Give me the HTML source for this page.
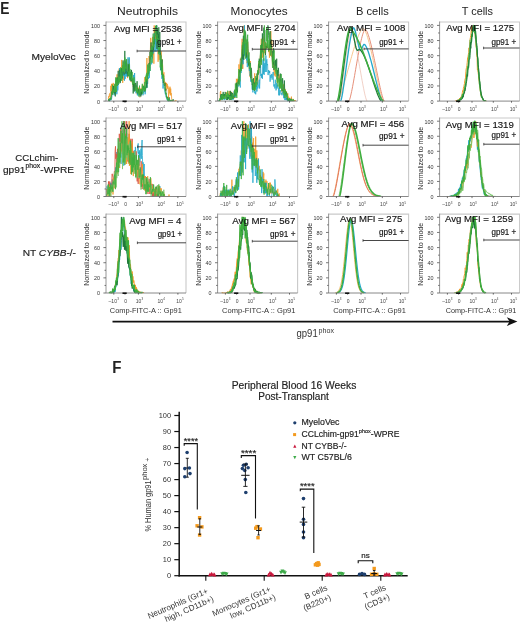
<!DOCTYPE html><html><head><meta charset="utf-8"><style>html,body{margin:0;padding:0;background:#fff;}svg{display:block;will-change:transform;} .s{stroke:#222;stroke-width:0.16px;}</style></head><body><svg width="520" height="629" viewBox="0 0 520 629" font-family='"Liberation Sans", sans-serif'>
<defs>
<clipPath id="cp00"><rect x="106.0" y="21.5" width="80.0" height="80.1"/></clipPath>
<clipPath id="cp01"><rect x="217.6" y="21.5" width="80.0" height="80.1"/></clipPath>
<clipPath id="cp02"><rect x="328.6" y="21.5" width="80.0" height="80.1"/></clipPath>
<clipPath id="cp03"><rect x="439.6" y="21.5" width="80.0" height="80.1"/></clipPath>
<clipPath id="cp10"><rect x="106.0" y="117.5" width="80.0" height="79.5"/></clipPath>
<clipPath id="cp11"><rect x="217.6" y="117.5" width="80.0" height="79.5"/></clipPath>
<clipPath id="cp12"><rect x="328.6" y="117.5" width="80.0" height="79.5"/></clipPath>
<clipPath id="cp13"><rect x="439.6" y="117.5" width="80.0" height="79.5"/></clipPath>
<clipPath id="cp20"><rect x="106.0" y="213.6" width="80.0" height="79.9"/></clipPath>
<clipPath id="cp21"><rect x="217.6" y="213.6" width="80.0" height="79.9"/></clipPath>
<clipPath id="cp22"><rect x="328.6" y="213.6" width="80.0" height="79.9"/></clipPath>
<clipPath id="cp23"><rect x="439.6" y="213.6" width="80.0" height="79.9"/></clipPath>
</defs>
<rect width="520" height="629" fill="#fff"/>
<text x="0.3" y="14.0" font-size="16.2" textLength="9.2" lengthAdjust="spacingAndGlyphs" font-weight="bold" fill="#222">E</text>
<text x="117.0" y="15.2" font-size="11.8" textLength="61.0" lengthAdjust="spacingAndGlyphs" fill="#222">Neutrophils</text>
<text x="230.6" y="15.2" font-size="11.8" textLength="57.0" lengthAdjust="spacingAndGlyphs" fill="#222">Monocytes</text>
<text x="356.0" y="15.2" font-size="11.8" textLength="32.7" lengthAdjust="spacingAndGlyphs" fill="#222">B cells</text>
<text x="461.7" y="15.2" font-size="11.8" textLength="31.3" lengthAdjust="spacingAndGlyphs" fill="#222">T cells</text>
<text x="31.5" y="60.4" font-size="9.8" textLength="44.0" lengthAdjust="spacingAndGlyphs" class="s" fill="#222">MyeloVec</text>
<text x="15.2" y="160.8" font-size="9.8" textLength="43.0" lengthAdjust="spacingAndGlyphs" class="s" fill="#222">CCLchim-</text>
<text x="2.9" y="172.7" font-size="9.8" class="s" fill="#222" textLength="71.2" lengthAdjust="spacingAndGlyphs">gp91<tspan font-size="6.6" dy="-4.6">phox</tspan><tspan dy="4.6">-WPRE</tspan></text>
<text x="22.7" y="256.3" font-size="9.8" class="s" fill="#222" textLength="53.3" lengthAdjust="spacingAndGlyphs">NT <tspan font-style="italic">CYBB</tspan>-/-</text>
<path d="M106.0,22.0 H186.0 V101.1" fill="none" stroke="#c9c9c9" stroke-width="1.1"/>
<g clip-path="url(#cp00)">
<polyline points="108.0,99.2 108.3,99.2 108.7,96.3 109.0,97.3 109.4,94.4 109.8,93.4 110.1,97.3 110.5,91.5 110.8,85.8 111.2,90.6 111.5,83.9 111.8,92.5 112.2,83.9 112.5,91.5 112.9,85.8 113.2,82.9 113.6,86.7 114.0,87.7 114.3,85.8 114.7,90.6 115.0,84.8 115.3,86.7 115.7,81.0 116.0,82.9 116.4,81.0 116.8,76.2 117.1,74.3 117.5,81.9 117.8,81.9 118.2,79.1 118.5,76.2 118.9,78.1 119.2,68.5 119.5,81.9 119.9,80.0 120.2,75.2 120.6,73.3 121.0,68.5 121.3,70.4 121.7,59.9 122.0,75.2 122.3,72.4 122.7,82.9 123.1,77.1 123.4,67.6 123.8,80.0 124.1,69.5 124.5,65.6 124.8,68.5 125.2,67.6 125.5,68.5 125.9,68.5 126.2,61.8 126.6,70.4 126.9,73.3 127.2,63.7 127.6,78.1 128.0,71.4 128.3,67.6 128.7,58.9 129.0,71.4 129.3,76.2 129.7,80.0 130.1,78.1 130.4,77.1 130.8,81.0 131.1,81.9 131.5,72.4 131.8,78.1 132.2,82.9 132.5,82.9 132.8,80.0 133.2,86.7 133.6,83.9 133.9,78.1 134.2,88.6 134.6,82.9 135.0,89.6 135.3,82.9 135.7,89.6 136.0,86.7 136.4,85.8 136.7,85.8 137.1,94.4 137.4,88.6 137.8,93.4 138.1,88.6 138.4,87.7 138.8,89.6 139.2,89.6 139.5,91.5 139.9,97.3 140.2,90.6 140.6,88.6 140.9,92.5 141.2,88.6 141.6,91.5 142.0,87.7 142.3,85.8 142.7,84.8 143.0,85.8 143.4,92.5 143.7,88.6 144.1,88.6 144.4,80.0 144.8,77.1 145.1,78.1 145.5,81.9 145.8,83.9 146.2,82.9 146.5,76.2 146.9,58.0 147.2,70.4 147.6,83.9 147.9,75.2 148.2,74.3 148.6,71.4 149.0,56.1 149.3,58.9 149.7,62.8 150.0,57.0 150.4,49.4 150.7,37.9 151.1,47.4 151.4,45.5 151.8,56.1 152.1,45.5 152.5,36.9 152.8,47.4 153.2,55.1 153.5,48.4 153.9,63.7 154.2,25.4 154.6,43.6 154.9,30.2 155.2,35.9 155.6,40.7 156.0,35.0 156.3,45.5 156.7,44.6 157.0,48.4 157.4,35.0 157.7,46.5 158.1,61.8 158.4,53.2 158.8,51.3 159.1,59.9 159.5,52.2 159.8,50.3 160.2,46.5 160.5,58.0 160.9,58.0 161.2,51.3 161.6,66.6 161.9,58.9 162.2,67.6 162.6,64.7 163.0,72.4 163.3,75.2 163.7,73.3 164.0,72.4 164.4,84.8 164.7,83.9 165.1,84.8 165.4,81.9 165.8,86.7 166.1,90.6 166.5,82.9 166.8,86.7 167.2,83.9 167.5,88.6 167.9,85.8 168.2,89.6 168.6,98.2 168.9,87.7 169.2,88.6 169.6,93.4 170.0,86.7 170.3,95.4 170.7,88.6 171.0,94.4 171.4,93.4 171.7,99.2 172.1,100.1 172.4,101.1 172.8,101.1 173.1,101.1 173.5,101.1 173.8,101.1 174.2,101.1 174.5,101.1 174.9,101.1 175.2,101.1 175.6,101.1 175.9,100.1 176.2,101.1" fill="none" stroke="#f39a2a" stroke-width="0.8" stroke-opacity="1.0" stroke-linejoin="round"/>
<polyline points="108.7,101.1 109.0,100.1 109.4,101.1 109.8,101.1 110.1,100.1 110.5,98.2 110.8,100.1 111.2,100.1 111.5,99.2 111.8,97.2 112.2,94.3 112.5,94.3 112.9,88.5 113.2,91.4 113.6,89.5 114.0,92.4 114.3,95.3 114.7,89.5 115.0,88.5 115.3,89.5 115.7,92.4 116.0,86.5 116.4,91.4 116.8,94.3 117.1,93.3 117.5,81.7 117.8,90.4 118.2,83.6 118.5,84.6 118.9,77.8 119.2,76.8 119.5,68.1 119.9,81.7 120.2,69.1 120.6,75.9 121.0,77.8 121.3,70.0 121.7,79.7 122.0,69.1 122.3,73.9 122.7,74.9 123.1,71.0 123.4,75.9 123.8,73.0 124.1,73.9 124.5,80.7 124.8,73.9 125.2,78.8 125.5,69.1 125.9,61.3 126.2,75.9 126.6,71.0 126.9,76.8 127.2,72.0 127.6,73.0 128.0,57.4 128.3,68.1 128.7,69.1 129.0,75.9 129.3,57.4 129.7,69.1 130.1,80.7 130.4,77.8 130.8,76.8 131.1,73.9 131.5,71.0 131.8,79.7 132.2,81.7 132.5,79.7 132.8,78.8 133.2,80.7 133.6,74.9 133.9,83.6 134.2,81.7 134.6,73.0 135.0,87.5 135.3,87.5 135.7,85.6 136.0,93.3 136.4,87.5 136.7,87.5 137.1,88.5 137.4,95.3 137.8,92.4 138.1,95.3 138.4,93.3 138.8,93.3 139.2,94.3 139.5,96.2 139.9,96.2 140.2,96.2 140.6,90.4 140.9,93.3 141.2,94.3 141.6,92.4 142.0,90.4 142.3,93.3 142.7,90.4 143.0,95.3 143.4,91.4 143.7,92.4 144.1,89.5 144.4,89.5 144.8,90.4 145.1,94.3 145.5,91.4 145.8,86.5 146.2,85.6 146.5,80.7 146.9,87.5 147.2,81.7 147.6,83.6 147.9,76.8 148.2,77.8 148.6,78.8 149.0,73.0 149.3,77.8 149.7,63.2 150.0,71.0 150.4,57.4 150.7,53.5 151.1,54.5 151.4,64.2 151.8,64.2 152.1,49.7 152.5,58.4 152.8,46.8 153.2,53.5 153.5,42.9 153.9,35.1 154.2,33.2 154.6,34.1 154.9,51.6 155.2,39.0 155.6,42.9 156.0,51.6 156.3,47.7 156.7,25.4 157.0,30.3 157.4,45.8 157.7,50.6 158.1,36.1 158.4,40.9 158.8,46.8 159.1,54.5 159.5,51.6 159.8,43.8 160.2,50.6 160.5,70.0 160.9,59.4 161.2,71.0 161.6,68.1 161.9,78.8 162.2,73.0 162.6,74.9 163.0,88.5 163.3,84.6 163.7,85.6 164.0,86.5 164.4,89.5 164.7,90.4 165.1,93.3 165.4,94.3 165.8,93.3 166.1,97.2 166.5,96.2 166.8,97.2 167.2,100.1 167.5,99.2 167.9,101.1 168.2,101.1 168.6,99.2 168.9,101.1 169.2,101.1 169.6,100.1 170.0,101.1 170.3,101.1 170.7,100.1 171.0,101.1" fill="none" stroke="#23a8cc" stroke-width="0.8" stroke-opacity="1.0" stroke-linejoin="round"/>
<polyline points="108.3,101.1 108.7,99.2 109.0,101.1 109.4,101.1 109.8,98.3 110.1,99.2 110.5,98.3 110.8,99.2 111.2,97.3 111.5,94.5 111.8,91.6 112.2,94.5 112.5,88.8 112.9,87.9 113.2,90.7 113.6,86.0 114.0,91.6 114.3,92.6 114.7,93.5 115.0,89.7 115.3,96.4 115.7,89.7 116.0,83.1 116.4,78.4 116.8,86.0 117.1,77.4 117.5,79.3 117.8,85.0 118.2,70.8 118.5,83.1 118.9,81.2 119.2,78.4 119.5,81.2 119.9,69.9 120.2,83.1 120.6,78.4 121.0,75.6 121.3,68.0 121.7,71.8 122.0,75.6 122.3,78.4 122.7,68.9 123.1,60.4 123.4,71.8 123.8,71.8 124.1,74.6 124.5,67.0 124.8,50.9 125.2,73.7 125.5,72.7 125.9,71.8 126.2,59.5 126.6,67.0 126.9,73.7 127.2,73.7 127.6,71.8 128.0,76.5 128.3,64.2 128.7,75.6 129.0,65.1 129.3,71.8 129.7,73.7 130.1,79.3 130.4,74.6 130.8,71.8 131.1,81.2 131.5,69.9 131.8,80.3 132.2,79.3 132.5,80.3 132.8,80.3 133.2,93.5 133.6,83.1 133.9,88.8 134.2,91.6 134.6,83.1 135.0,90.7 135.3,88.8 135.7,83.1 136.0,86.0 136.4,90.7 136.7,90.7 137.1,81.2 137.4,91.6 137.8,93.5 138.1,89.7 138.4,92.6 138.8,88.8 139.2,91.6 139.5,94.5 139.9,92.6 140.2,89.7 140.6,89.7 140.9,96.4 141.2,91.6 141.6,94.5 142.0,88.8 142.3,90.7 142.7,89.7 143.0,86.9 143.4,88.8 143.7,86.0 144.1,89.7 144.4,86.9 144.8,91.6 145.1,86.9 145.5,89.7 145.8,87.9 146.2,85.0 146.5,79.3 146.9,87.9 147.2,79.3 147.6,73.7 147.9,73.7 148.2,70.8 148.6,73.7 149.0,63.2 149.3,68.0 149.7,61.4 150.0,51.9 150.4,59.5 150.7,50.9 151.1,42.4 151.4,56.6 151.8,49.1 152.1,50.9 152.5,54.7 152.8,46.2 153.2,50.0 153.5,41.5 153.9,43.4 154.2,44.3 154.6,36.8 154.9,35.8 155.2,28.2 155.6,26.3 156.0,32.0 156.3,39.6 156.7,25.4 157.0,49.1 157.4,29.2 157.7,42.4 158.1,33.9 158.4,39.6 158.8,27.3 159.1,52.8 159.5,44.3 159.8,32.0 160.2,54.7 160.5,52.8 160.9,55.7 161.2,69.9 161.6,64.2 161.9,63.2 162.2,59.5 162.6,76.5 163.0,74.6 163.3,83.1 163.7,78.4 164.0,85.0 164.4,85.0 164.7,86.0 165.1,83.1 165.4,90.7 165.8,88.8 166.1,94.5 166.5,97.3 166.8,96.4 167.2,98.3 167.5,97.3 167.9,99.2 168.2,101.1 168.6,101.1 168.9,99.2 169.2,97.3 169.6,101.1 170.0,101.1 170.3,100.2 170.7,101.1 171.0,101.1 171.4,101.1 171.7,100.2 172.1,100.2 172.4,101.1 172.8,101.1 173.1,99.2 173.5,100.2 173.8,101.1" fill="none" stroke="#1f7a3a" stroke-width="0.8" stroke-opacity="1.0" stroke-linejoin="round"/>
<polyline points="108.7,101.1 109.0,99.3 109.4,99.3 109.8,99.3 110.1,100.2 110.5,97.5 110.8,99.3 111.2,97.5 111.5,93.8 111.8,92.0 112.2,92.0 112.5,84.7 112.9,94.7 113.2,90.2 113.6,92.9 114.0,89.2 114.3,92.0 114.7,83.8 115.0,90.2 115.3,92.0 115.7,77.4 116.0,88.3 116.4,92.0 116.8,78.3 117.1,81.0 117.5,85.6 117.8,82.9 118.2,79.2 118.5,76.5 118.9,83.8 119.2,77.4 119.5,81.9 119.9,76.5 120.2,79.2 120.6,67.4 121.0,72.8 121.3,74.7 121.7,81.0 122.0,78.3 122.3,65.5 122.7,65.5 123.1,71.9 123.4,61.9 123.8,71.0 124.1,63.7 124.5,71.9 124.8,57.3 125.2,66.4 125.5,68.3 125.9,66.4 126.2,69.2 126.6,59.1 126.9,63.7 127.2,71.0 127.6,71.0 128.0,71.0 128.3,75.6 128.7,71.9 129.0,72.8 129.3,63.7 129.7,79.2 130.1,69.2 130.4,77.4 130.8,75.6 131.1,80.1 131.5,80.1 131.8,76.5 132.2,71.9 132.5,84.7 132.8,78.3 133.2,79.2 133.6,83.8 133.9,77.4 134.2,77.4 134.6,83.8 135.0,83.8 135.3,90.2 135.7,89.2 136.0,87.4 136.4,92.0 136.7,86.5 137.1,92.9 137.4,89.2 137.8,90.2 138.1,91.1 138.4,92.0 138.8,96.5 139.2,94.7 139.5,85.6 139.9,93.8 140.2,92.9 140.6,89.2 140.9,92.0 141.2,90.2 141.6,91.1 142.0,90.2 142.3,83.8 142.7,93.8 143.0,85.6 143.4,90.2 143.7,88.3 144.1,90.2 144.4,88.3 144.8,81.9 145.1,91.1 145.5,76.5 145.8,82.9 146.2,74.7 146.5,76.5 146.9,72.8 147.2,81.0 147.6,64.6 147.9,73.7 148.2,75.6 148.6,68.3 149.0,72.8 149.3,63.7 149.7,70.1 150.0,71.0 150.4,66.4 150.7,50.0 151.1,55.5 151.4,50.9 151.8,46.4 152.1,62.8 152.5,44.6 152.8,39.1 153.2,33.6 153.5,41.8 153.9,47.3 154.2,37.3 154.6,35.4 154.9,33.6 155.2,33.6 155.6,28.1 156.0,25.4 156.3,41.8 156.7,39.1 157.0,34.5 157.4,37.3 157.7,39.1 158.1,38.2 158.4,53.7 158.8,50.9 159.1,50.0 159.5,45.5 159.8,54.6 160.2,67.4 160.5,64.6 160.9,55.5 161.2,69.2 161.6,74.7 161.9,69.2 162.2,63.7 162.6,77.4 163.0,74.7 163.3,81.0 163.7,75.6 164.0,82.9 164.4,83.8 164.7,86.5 165.1,90.2 165.4,92.0 165.8,93.8 166.1,92.9 166.5,95.6 166.8,98.4 167.2,99.3 167.5,98.4 167.9,99.3 168.2,101.1 168.6,98.4 168.9,99.3 169.2,101.1 169.6,100.2 170.0,100.2 170.3,100.2 170.7,100.2 171.0,101.1 171.4,100.2 171.7,101.1" fill="none" stroke="#3fae3f" stroke-width="0.8" stroke-opacity="1.0" stroke-linejoin="round"/>
</g>
<line x1="106.0" y1="21.5" x2="106.0" y2="101.1" stroke="#8a8a8a" stroke-width="0.9"/>
<line x1="106.0" y1="101.1" x2="186.0" y2="101.1" stroke="#7a7a7a" stroke-width="0.9"/>
<line x1="103.4" y1="101.10" x2="106.0" y2="101.10" stroke="#555" stroke-width="0.8"/>
<text x="100.0" y="103.50" font-size="5.4" text-anchor="end" fill="#333">0</text>
<line x1="104.5" y1="93.53" x2="106.0" y2="93.53" stroke="#555" stroke-width="0.8"/>
<line x1="103.4" y1="85.96" x2="106.0" y2="85.96" stroke="#555" stroke-width="0.8"/>
<text x="100.0" y="88.36" font-size="5.4" text-anchor="end" fill="#333">20</text>
<line x1="104.5" y1="78.39" x2="106.0" y2="78.39" stroke="#555" stroke-width="0.8"/>
<line x1="103.4" y1="70.82" x2="106.0" y2="70.82" stroke="#555" stroke-width="0.8"/>
<text x="100.0" y="73.22" font-size="5.4" text-anchor="end" fill="#333">40</text>
<line x1="104.5" y1="63.25" x2="106.0" y2="63.25" stroke="#555" stroke-width="0.8"/>
<line x1="103.4" y1="55.68" x2="106.0" y2="55.68" stroke="#555" stroke-width="0.8"/>
<text x="100.0" y="58.08" font-size="5.4" text-anchor="end" fill="#333">60</text>
<line x1="104.5" y1="48.11" x2="106.0" y2="48.11" stroke="#555" stroke-width="0.8"/>
<line x1="103.4" y1="40.54" x2="106.0" y2="40.54" stroke="#555" stroke-width="0.8"/>
<text x="100.0" y="42.94" font-size="5.4" text-anchor="end" fill="#333">80</text>
<line x1="104.5" y1="32.97" x2="106.0" y2="32.97" stroke="#555" stroke-width="0.8"/>
<line x1="103.4" y1="25.40" x2="106.0" y2="25.40" stroke="#555" stroke-width="0.8"/>
<text x="100.0" y="27.80" font-size="5.4" text-anchor="end" fill="#333">100</text>
<line x1="113.8" y1="101.1" x2="113.8" y2="102.69999999999999" stroke="#444" stroke-width="0.8"/>
<line x1="125.0" y1="101.1" x2="125.0" y2="102.69999999999999" stroke="#444" stroke-width="0.8"/>
<line x1="138.4" y1="101.1" x2="138.4" y2="102.69999999999999" stroke="#444" stroke-width="0.8"/>
<line x1="159.7" y1="101.1" x2="159.7" y2="102.69999999999999" stroke="#444" stroke-width="0.8"/>
<line x1="177.9" y1="101.1" x2="177.9" y2="102.69999999999999" stroke="#444" stroke-width="0.8"/>
<rect x="122.5" y="100.5" width="4.2" height="1.6" fill="#111"/>
<text x="108.6" y="111.0" font-size="5.0" fill="#444">–10</text>
<text x="117.2" y="108.4" font-size="3.0" fill="#444">3</text>
<text x="125.6" y="111.0" font-size="5.0" text-anchor="middle" fill="#444">0</text>
<text x="138.6" y="111.0" font-size="5.0" text-anchor="middle" fill="#444">10</text>
<text x="141.5" y="108.4" font-size="3.0" fill="#444">3</text>
<text x="160.3" y="111.0" font-size="5.0" text-anchor="middle" fill="#444">10</text>
<text x="163.2" y="108.4" font-size="3.0" fill="#444">4</text>
<text x="179.0" y="111.0" font-size="5.0" text-anchor="middle" fill="#444">10</text>
<text x="181.9" y="108.4" font-size="3.0" fill="#444">5</text>
<text x="86.8" y="62.2" font-size="7.9" text-anchor="middle" fill="#2a2a2a" transform="rotate(-90 86.8 62.2) translate(0 2.7)" textLength="63" lengthAdjust="spacingAndGlyphs">Normalized to mode</text>
<text x="114.0" y="32.2" font-size="9.0" textLength="68.2" lengthAdjust="spacingAndGlyphs" class="s" fill="#111">Avg MFI = 2536</text>
<text x="157.3" y="45.4" font-size="8.2" textLength="24.2" lengthAdjust="spacingAndGlyphs" class="s" fill="#111">gp91 +</text>
<line x1="137.1" y1="51.0" x2="186.0" y2="51.0" stroke="#333" stroke-width="0.9"/>
<line x1="137.1" y1="49.7" x2="137.1" y2="52.3" stroke="#333" stroke-width="0.8"/>
<path d="M217.6,22.0 H297.6 V101.1" fill="none" stroke="#c9c9c9" stroke-width="1.1"/>
<g clip-path="url(#cp01)">
<polyline points="219.3,101.1 219.7,100.0 220.0,101.1 220.3,92.2 220.7,91.1 221.0,96.6 221.4,95.5 221.8,97.8 222.1,97.8 222.4,100.0 222.8,97.8 223.2,96.6 223.5,97.8 223.8,98.9 224.2,94.4 224.5,94.4 224.9,97.8 225.2,98.9 225.6,96.6 225.9,96.6 226.3,95.5 226.7,92.2 227.0,97.8 227.3,96.6 227.7,94.4 228.1,93.3 228.4,95.5 228.8,97.8 229.1,91.1 229.4,98.9 229.8,95.5 230.2,95.5 230.5,91.1 230.8,97.8 231.2,97.8 231.6,94.4 231.9,92.2 232.2,96.6 232.6,97.8 232.9,94.4 233.3,94.4 233.7,98.9 234.0,95.5 234.3,97.8 234.7,90.0 235.1,90.0 235.4,97.8 235.8,92.2 236.1,87.7 236.4,78.8 236.8,81.1 237.2,85.5 237.5,78.8 237.8,82.2 238.2,84.4 238.6,73.3 238.9,64.4 239.2,67.7 239.6,69.9 239.9,63.2 240.3,58.8 240.7,59.9 241.0,59.9 241.3,59.9 241.7,48.8 242.1,38.8 242.4,51.0 242.8,68.8 243.1,49.9 243.4,48.8 243.8,46.6 244.2,25.4 244.5,53.2 244.8,34.3 245.2,42.1 245.6,38.8 245.9,55.5 246.2,46.6 246.6,53.2 246.9,63.2 247.3,63.2 247.7,42.1 248.0,58.8 248.3,55.5 248.7,66.6 249.1,67.7 249.4,73.3 249.8,76.6 250.1,76.6 250.4,61.0 250.8,71.0 251.2,71.0 251.5,76.6 251.8,78.8 252.2,84.4 252.6,90.0 252.9,90.0 253.2,88.9 253.6,85.5 253.9,82.2 254.3,83.3 254.7,73.3 255.0,83.3 255.3,86.6 255.7,82.2 256.1,86.6 256.4,85.5 256.8,83.3 257.1,73.3 257.4,78.8 257.8,83.3 258.1,71.0 258.5,63.2 258.9,66.6 259.2,61.0 259.6,65.5 259.9,73.3 260.2,57.7 260.6,53.2 260.9,49.9 261.3,38.8 261.6,52.1 262.0,53.2 262.4,57.7 262.7,55.5 263.1,38.8 263.4,56.6 263.8,51.0 264.1,36.5 264.4,53.2 264.8,44.3 265.1,47.7 265.5,42.1 265.9,45.4 266.2,48.8 266.6,44.3 266.9,46.6 267.2,47.7 267.6,47.7 267.9,44.3 268.3,46.6 268.6,52.1 269.0,46.6 269.4,57.7 269.7,55.5 270.1,42.1 270.4,55.5 270.8,31.0 271.1,38.8 271.4,56.6 271.8,39.9 272.1,55.5 272.5,64.4 272.9,54.3 273.2,63.2 273.6,67.7 273.9,67.7 274.2,75.5 274.6,64.4 274.9,71.0 275.3,76.6 275.6,73.3 276.0,69.9 276.4,68.8 276.7,69.9 277.1,72.2 277.4,83.3 277.8,81.1 278.1,78.8 278.4,78.8 278.8,74.4 279.2,74.4 279.5,79.9 279.9,81.1 280.2,81.1 280.6,82.2 280.9,87.7 281.2,83.3 281.6,86.6 282.0,92.2 282.3,90.0 282.6,90.0 283.0,94.4 283.4,86.6 283.7,84.4 284.1,93.3 284.4,96.6 284.8,91.1 285.1,88.9 285.5,97.8 285.8,95.5 286.1,91.1 286.5,95.5 286.9,95.5 287.2,96.6 287.6,93.3 287.9,93.3 288.2,97.8 288.6,96.6 289.0,98.9 289.3,98.9 289.6,97.8 290.0,98.9 290.4,100.0 290.7,100.0 291.1,98.9 291.4,96.6 291.8,100.0 292.1,101.1 292.5,100.0 292.8,101.1 293.2,98.9 293.5,101.1 293.9,101.1 294.2,100.0 294.6,101.1 294.9,101.1 295.2,100.0 295.6,101.1" fill="none" stroke="#f39a2a" stroke-width="0.8" stroke-opacity="1.0" stroke-linejoin="round"/>
<polyline points="218.9,101.1 219.3,100.1 219.7,100.1 220.0,99.2 220.3,99.2 220.7,98.2 221.0,95.3 221.4,99.2 221.8,100.1 222.1,95.3 222.4,97.2 222.8,96.2 223.2,97.2 223.5,99.2 223.8,94.3 224.2,100.1 224.5,98.2 224.9,98.2 225.2,99.2 225.6,99.2 225.9,97.2 226.3,98.2 226.7,96.2 227.0,95.3 227.3,99.2 227.7,97.2 228.1,98.2 228.4,98.2 228.8,95.3 229.1,96.2 229.4,96.2 229.8,100.1 230.2,96.2 230.5,95.3 230.8,96.2 231.2,96.2 231.6,93.3 231.9,97.2 232.2,95.3 232.6,97.2 232.9,100.1 233.3,97.2 233.7,97.2 234.0,94.3 234.3,91.4 234.7,97.2 235.1,93.3 235.4,97.2 235.8,93.3 236.1,96.2 236.4,92.4 236.8,93.3 237.2,92.4 237.5,86.5 237.8,84.6 238.2,86.5 238.6,79.7 238.9,79.7 239.2,76.8 239.6,76.8 239.9,84.6 240.3,87.5 240.7,65.2 241.0,73.0 241.3,62.3 241.7,65.2 242.1,61.3 242.4,61.3 242.8,53.5 243.1,64.2 243.4,48.7 243.8,56.5 244.2,53.5 244.5,25.4 244.8,55.5 245.2,42.9 245.6,45.8 245.9,42.9 246.2,57.4 246.6,60.3 246.9,54.5 247.3,67.1 247.7,56.5 248.0,55.5 248.3,58.4 248.7,66.2 249.1,66.2 249.4,71.0 249.8,62.3 250.1,75.9 250.4,70.0 250.8,81.7 251.2,79.7 251.5,81.7 251.8,80.7 252.2,89.5 252.6,82.7 252.9,92.4 253.2,87.5 253.6,88.5 253.9,89.5 254.3,85.6 254.7,93.3 255.0,91.4 255.3,91.4 255.7,94.3 256.1,90.4 256.4,85.6 256.8,91.4 257.1,91.4 257.4,81.7 257.8,88.5 258.1,87.5 258.5,86.5 258.9,82.7 259.2,79.7 259.6,88.5 259.9,81.7 260.2,65.2 260.6,65.2 260.9,75.9 261.3,73.9 261.6,77.8 262.0,73.9 262.4,78.8 262.7,66.2 263.1,59.4 263.4,73.9 263.8,58.4 264.1,74.9 264.4,69.1 264.8,63.2 265.1,72.0 265.5,64.2 265.9,55.5 266.2,72.0 266.6,60.3 266.9,59.4 267.2,65.2 267.6,64.2 267.9,74.9 268.3,74.9 268.6,70.0 269.0,71.0 269.4,73.0 269.7,71.0 270.1,81.7 270.4,76.8 270.8,74.9 271.1,77.8 271.4,75.9 271.8,73.9 272.1,79.7 272.5,75.9 272.9,73.9 273.2,72.0 273.6,83.6 273.9,86.5 274.2,84.6 274.6,84.6 274.9,88.5 275.3,79.7 275.6,83.6 276.0,90.4 276.4,88.5 276.7,82.7 277.1,88.5 277.4,84.6 277.8,85.6 278.1,87.5 278.4,87.5 278.8,95.3 279.2,88.5 279.5,95.3 279.9,94.3 280.2,90.4 280.6,90.4 280.9,92.4 281.2,94.3 281.6,93.3 282.0,95.3 282.3,92.4 282.6,91.4 283.0,93.3 283.4,93.3 283.7,98.2 284.1,93.3 284.4,96.2 284.8,100.1 285.1,99.2 285.5,94.3 285.8,100.1 286.1,98.2 286.5,99.2 286.9,97.2 287.2,101.1 287.6,101.1 287.9,101.1 288.2,100.1 288.6,100.1 289.0,101.1 289.3,101.1 289.6,101.1 290.0,101.1 290.4,101.1 290.7,101.1 291.1,100.1 291.4,101.1 291.8,100.1 292.1,101.1" fill="none" stroke="#23a8cc" stroke-width="0.8" stroke-opacity="1.0" stroke-linejoin="round"/>
<polyline points="218.9,101.1 219.3,100.0 219.7,100.0 220.0,100.0 220.3,100.0 220.7,97.7 221.0,94.2 221.4,98.8 221.8,94.2 222.1,98.8 222.4,94.2 222.8,97.7 223.2,91.9 223.5,96.5 223.8,97.7 224.2,96.5 224.5,94.2 224.9,96.5 225.2,91.9 225.6,95.4 225.9,95.4 226.3,96.5 226.7,100.0 227.0,95.4 227.3,98.8 227.7,100.0 228.1,94.2 228.4,97.7 228.8,98.8 229.1,95.4 229.4,100.0 229.8,96.5 230.2,90.8 230.5,94.2 230.8,100.0 231.2,91.9 231.6,98.8 231.9,97.7 232.2,96.5 232.6,93.1 232.9,98.8 233.3,96.5 233.7,96.5 234.0,97.7 234.3,90.8 234.7,93.1 235.1,95.4 235.4,93.1 235.8,89.6 236.1,90.8 236.4,82.7 236.8,93.1 237.2,89.6 237.5,91.9 237.8,83.9 238.2,80.5 238.6,79.3 238.9,83.9 239.2,82.7 239.6,70.1 239.9,72.4 240.3,70.1 240.7,66.7 241.0,58.7 241.3,57.5 241.7,69.0 242.1,56.4 242.4,44.9 242.8,58.7 243.1,41.5 243.4,35.7 243.8,59.8 244.2,39.2 244.5,41.5 244.8,41.5 245.2,32.3 245.6,32.3 245.9,36.9 246.2,42.6 246.6,57.5 246.9,43.8 247.3,39.2 247.7,41.5 248.0,48.3 248.3,52.9 248.7,65.5 249.1,58.7 249.4,61.0 249.8,65.5 250.1,63.2 250.4,70.1 250.8,78.2 251.2,67.8 251.5,70.1 251.8,75.9 252.2,85.0 252.6,83.9 252.9,89.6 253.2,82.7 253.6,78.2 253.9,89.6 254.3,82.7 254.7,90.8 255.0,87.3 255.3,81.6 255.7,81.6 256.1,82.7 256.4,78.2 256.8,80.5 257.1,73.6 257.4,79.3 257.8,71.3 258.1,74.7 258.5,64.4 258.9,67.8 259.2,58.7 259.6,61.0 259.9,67.8 260.2,62.1 260.6,50.6 260.9,51.8 261.3,62.1 261.6,43.8 262.0,48.3 262.4,33.4 262.7,51.8 263.1,40.3 263.4,33.4 263.8,27.7 264.1,27.7 264.4,41.5 264.8,30.0 265.1,47.2 265.5,55.2 265.9,46.0 266.2,46.0 266.6,47.2 266.9,48.3 267.2,48.3 267.6,46.0 267.9,25.4 268.3,27.7 268.6,35.7 269.0,39.2 269.4,41.5 269.7,48.3 270.1,31.1 270.4,47.2 270.8,39.2 271.1,46.0 271.4,49.5 271.8,50.6 272.1,52.9 272.5,62.1 272.9,50.6 273.2,64.4 273.6,48.3 273.9,70.1 274.2,64.4 274.6,65.5 274.9,61.0 275.3,69.0 275.6,59.8 276.0,71.3 276.4,69.0 276.7,58.7 277.1,79.3 277.4,70.1 277.8,75.9 278.1,74.7 278.4,67.8 278.8,73.6 279.2,81.6 279.5,81.6 279.9,88.5 280.2,78.2 280.6,73.6 280.9,82.7 281.2,79.3 281.6,88.5 282.0,89.6 282.3,90.8 282.6,78.2 283.0,83.9 283.4,89.6 283.7,91.9 284.1,93.1 284.4,80.5 284.8,93.1 285.1,90.8 285.5,94.2 285.8,93.1 286.1,95.4 286.5,91.9 286.9,95.4 287.2,100.0 287.6,97.7 287.9,100.0 288.2,101.1 288.6,98.8 289.0,101.1 289.3,98.8 289.6,98.8 290.0,101.1 290.4,98.8 290.7,101.1 291.1,101.1 291.4,98.8 291.8,100.0 292.1,100.0 292.5,101.1 292.8,101.1 293.2,100.0 293.5,101.1" fill="none" stroke="#1f7a3a" stroke-width="0.8" stroke-opacity="1.0" stroke-linejoin="round"/>
<polyline points="218.9,101.1 219.3,100.1 219.7,100.1 220.0,98.0 220.3,99.0 220.7,100.1 221.0,98.0 221.4,97.0 221.8,94.9 222.1,100.1 222.4,97.0 222.8,93.8 223.2,99.0 223.5,95.9 223.8,97.0 224.2,99.0 224.5,98.0 224.9,95.9 225.2,94.9 225.6,93.8 225.9,98.0 226.3,99.0 226.7,98.0 227.0,92.8 227.3,97.0 227.7,90.7 228.1,97.0 228.4,93.8 228.8,97.0 229.1,95.9 229.4,100.1 229.8,98.0 230.2,95.9 230.5,99.0 230.8,98.0 231.2,97.0 231.6,100.1 231.9,95.9 232.2,93.8 232.6,94.9 232.9,98.0 233.3,98.0 233.7,98.0 234.0,95.9 234.3,93.8 234.7,89.7 235.1,92.8 235.4,83.5 235.8,94.9 236.1,95.9 236.4,90.7 236.8,98.0 237.2,85.5 237.5,82.4 237.8,83.5 238.2,81.4 238.6,74.1 238.9,69.0 239.2,85.5 239.6,79.3 239.9,81.4 240.3,74.1 240.7,71.0 241.0,63.8 241.3,71.0 241.7,55.5 242.1,49.3 242.4,46.1 242.8,43.0 243.1,42.0 243.4,52.4 243.8,54.4 244.2,29.5 244.5,44.1 244.8,39.9 245.2,30.6 245.6,58.6 245.9,42.0 246.2,39.9 246.6,52.4 246.9,50.3 247.3,38.9 247.7,34.7 248.0,62.7 248.3,60.7 248.7,59.6 249.1,52.4 249.4,69.0 249.8,66.9 250.1,63.8 250.4,65.8 250.8,77.2 251.2,80.4 251.5,80.4 251.8,81.4 252.2,82.4 252.6,79.3 252.9,84.5 253.2,89.7 253.6,83.5 253.9,87.6 254.3,90.7 254.7,88.7 255.0,83.5 255.3,89.7 255.7,76.2 256.1,86.6 256.4,82.4 256.8,83.5 257.1,84.5 257.4,77.2 257.8,70.0 258.1,73.1 258.5,73.1 258.9,60.7 259.2,62.7 259.6,62.7 259.9,65.8 260.2,60.7 260.6,45.1 260.9,55.5 261.3,57.5 261.6,64.8 262.0,38.9 262.4,45.1 262.7,51.3 263.1,53.4 263.4,51.3 263.8,60.7 264.1,38.9 264.4,25.4 264.8,48.2 265.1,49.3 265.5,51.3 265.9,43.0 266.2,46.1 266.6,27.5 266.9,41.0 267.2,28.5 267.6,47.2 267.9,39.9 268.3,41.0 268.6,51.3 269.0,49.3 269.4,36.8 269.7,32.7 270.1,51.3 270.4,55.5 270.8,48.2 271.1,45.1 271.4,52.4 271.8,52.4 272.1,57.5 272.5,67.9 272.9,60.7 273.2,53.4 273.6,61.7 273.9,53.4 274.2,50.3 274.6,69.0 274.9,66.9 275.3,65.8 275.6,72.1 276.0,74.1 276.4,74.1 276.7,67.9 277.1,82.4 277.4,76.2 277.8,81.4 278.1,86.6 278.4,79.3 278.8,78.3 279.2,82.4 279.5,79.3 279.9,88.7 280.2,83.5 280.6,81.4 280.9,87.6 281.2,74.1 281.6,90.7 282.0,86.6 282.3,86.6 282.6,83.5 283.0,86.6 283.4,92.8 283.7,91.8 284.1,94.9 284.4,89.7 284.8,98.0 285.1,89.7 285.5,92.8 285.8,92.8 286.1,91.8 286.5,97.0 286.9,97.0 287.2,93.8 287.6,98.0 287.9,100.1 288.2,100.1 288.6,99.0 289.0,99.0 289.3,98.0 289.6,100.1 290.0,100.1 290.4,100.1 290.7,101.1 291.1,99.0 291.4,101.1 291.8,101.1 292.1,100.1 292.5,101.1 292.8,100.1 293.2,99.0 293.5,101.1 293.9,100.1 294.2,101.1" fill="none" stroke="#3fae3f" stroke-width="0.8" stroke-opacity="1.0" stroke-linejoin="round"/>
</g>
<line x1="217.6" y1="21.5" x2="217.6" y2="101.1" stroke="#8a8a8a" stroke-width="0.9"/>
<line x1="217.6" y1="101.1" x2="297.6" y2="101.1" stroke="#7a7a7a" stroke-width="0.9"/>
<line x1="215.0" y1="101.10" x2="217.6" y2="101.10" stroke="#555" stroke-width="0.8"/>
<text x="211.6" y="103.50" font-size="5.4" text-anchor="end" fill="#333">0</text>
<line x1="216.1" y1="93.53" x2="217.6" y2="93.53" stroke="#555" stroke-width="0.8"/>
<line x1="215.0" y1="85.96" x2="217.6" y2="85.96" stroke="#555" stroke-width="0.8"/>
<text x="211.6" y="88.36" font-size="5.4" text-anchor="end" fill="#333">20</text>
<line x1="216.1" y1="78.39" x2="217.6" y2="78.39" stroke="#555" stroke-width="0.8"/>
<line x1="215.0" y1="70.82" x2="217.6" y2="70.82" stroke="#555" stroke-width="0.8"/>
<text x="211.6" y="73.22" font-size="5.4" text-anchor="end" fill="#333">40</text>
<line x1="216.1" y1="63.25" x2="217.6" y2="63.25" stroke="#555" stroke-width="0.8"/>
<line x1="215.0" y1="55.68" x2="217.6" y2="55.68" stroke="#555" stroke-width="0.8"/>
<text x="211.6" y="58.08" font-size="5.4" text-anchor="end" fill="#333">60</text>
<line x1="216.1" y1="48.11" x2="217.6" y2="48.11" stroke="#555" stroke-width="0.8"/>
<line x1="215.0" y1="40.54" x2="217.6" y2="40.54" stroke="#555" stroke-width="0.8"/>
<text x="211.6" y="42.94" font-size="5.4" text-anchor="end" fill="#333">80</text>
<line x1="216.1" y1="32.97" x2="217.6" y2="32.97" stroke="#555" stroke-width="0.8"/>
<line x1="215.0" y1="25.40" x2="217.6" y2="25.40" stroke="#555" stroke-width="0.8"/>
<text x="211.6" y="27.80" font-size="5.4" text-anchor="end" fill="#333">100</text>
<line x1="225.4" y1="101.1" x2="225.4" y2="102.69999999999999" stroke="#444" stroke-width="0.8"/>
<line x1="236.6" y1="101.1" x2="236.6" y2="102.69999999999999" stroke="#444" stroke-width="0.8"/>
<line x1="250.0" y1="101.1" x2="250.0" y2="102.69999999999999" stroke="#444" stroke-width="0.8"/>
<line x1="271.3" y1="101.1" x2="271.3" y2="102.69999999999999" stroke="#444" stroke-width="0.8"/>
<line x1="289.5" y1="101.1" x2="289.5" y2="102.69999999999999" stroke="#444" stroke-width="0.8"/>
<rect x="234.1" y="100.5" width="4.2" height="1.6" fill="#111"/>
<text x="220.2" y="111.0" font-size="5.0" fill="#444">–10</text>
<text x="228.8" y="108.4" font-size="3.0" fill="#444">3</text>
<text x="237.2" y="111.0" font-size="5.0" text-anchor="middle" fill="#444">0</text>
<text x="250.2" y="111.0" font-size="5.0" text-anchor="middle" fill="#444">10</text>
<text x="253.1" y="108.4" font-size="3.0" fill="#444">3</text>
<text x="271.9" y="111.0" font-size="5.0" text-anchor="middle" fill="#444">10</text>
<text x="274.8" y="108.4" font-size="3.0" fill="#444">4</text>
<text x="290.6" y="111.0" font-size="5.0" text-anchor="middle" fill="#444">10</text>
<text x="293.5" y="108.4" font-size="3.0" fill="#444">5</text>
<text x="198.4" y="62.2" font-size="7.9" text-anchor="middle" fill="#2a2a2a" transform="rotate(-90 198.4 62.2) translate(0 2.7)" textLength="63" lengthAdjust="spacingAndGlyphs">Normalized to mode</text>
<text x="227.4" y="31.1" font-size="9.0" textLength="68.1" lengthAdjust="spacingAndGlyphs" class="s" fill="#111">Avg MFI = 2704</text>
<text x="270.0" y="45.4" font-size="8.2" textLength="25.5" lengthAdjust="spacingAndGlyphs" class="s" fill="#111">gp91 +</text>
<line x1="252.3" y1="49.2" x2="297.6" y2="49.2" stroke="#333" stroke-width="0.9"/>
<line x1="252.3" y1="47.900000000000006" x2="252.3" y2="50.5" stroke="#333" stroke-width="0.8"/>
<path d="M328.6,22.0 H408.6 V101.1" fill="none" stroke="#c9c9c9" stroke-width="1.1"/>
<g clip-path="url(#cp02)">
<polyline points="337.6,100.9 338.1,100.3 338.6,99.5 339.1,98.5 339.6,97.4 340.1,96.2 340.6,94.8 341.1,93.4 341.6,92.0 342.1,90.4 342.6,88.8 343.1,87.2 343.6,85.5 344.1,83.8 344.6,82.0 345.1,80.3 345.6,78.5 346.1,76.7 346.6,74.8 347.1,73.0 347.6,71.1 348.1,69.3 348.6,67.5 349.1,65.6 349.6,63.8 350.1,62.0 350.6,60.2 351.1,58.4 351.6,56.6 352.1,54.8 352.6,53.1 353.1,51.4 353.6,49.7 354.1,48.1 354.6,46.5 355.1,44.9 355.6,43.4 356.1,41.9 356.6,40.5 357.1,39.1 357.6,37.8 358.1,36.6 358.6,35.4 359.1,34.2 359.6,33.2 360.1,32.2 360.6,31.3 361.1,30.5 361.6,29.8 362.1,29.2 362.6,28.8 363.1,28.5 363.6,28.6 364.1,29.0 364.6,29.8 365.1,30.7 365.6,31.8 366.1,33.0 366.6,34.3 367.1,35.8 367.6,37.4 368.1,39.1 368.6,40.9 369.1,42.7 369.6,44.7 370.1,46.7 370.6,48.7 371.1,50.9 371.6,53.0 372.1,55.3 372.6,57.5 373.1,59.8 373.6,62.2 374.1,64.5 374.6,66.9 375.1,69.3 375.6,71.6 376.1,74.0 376.6,76.4 377.1,78.7 377.6,81.0 378.1,83.3 378.6,85.5 379.1,87.6 379.6,89.7 380.1,91.7 380.6,93.6 381.1,95.4 381.6,97.0 382.1,98.5 382.6,99.7 383.1,100.7 383.6,101.1" fill="none" stroke="#f7c080" stroke-width="0.9" stroke-opacity="1.0" stroke-linejoin="round"/>
<polyline points="348.6,101.1 349.1,100.7 349.6,99.6 350.1,98.0 350.6,96.1 351.1,93.9 351.6,91.6 352.1,89.2 352.6,86.6 353.1,83.9 353.6,81.1 354.1,78.3 354.6,75.5 355.1,72.6 355.6,69.7 356.1,66.8 356.6,63.9 357.1,61.1 357.6,58.3 358.1,55.5 358.6,52.8 359.1,50.2 359.6,47.6 360.1,45.2 360.6,42.8 361.1,40.6 361.6,38.5 362.1,36.6 362.6,34.8 363.1,33.2 363.6,31.8 364.1,30.6 364.6,29.7 365.1,29.2 365.6,29.4 366.1,30.0 366.6,30.8 367.1,31.8 367.6,33.0 368.1,34.4 368.6,35.8 369.1,37.4 369.6,39.2 370.1,41.0 370.6,42.9 371.1,44.9 371.6,47.0 372.1,49.1 372.6,51.3 373.1,53.6 373.6,55.9 374.1,58.3 374.6,60.7 375.1,63.1 375.6,65.6 376.1,68.0 376.6,70.5 377.1,73.0 377.6,75.4 378.1,77.9 378.6,80.3 379.1,82.7 379.6,85.0 380.1,87.3 380.6,89.4 381.1,91.5 381.6,93.5 382.1,95.4 382.6,97.1 383.1,98.6 383.6,99.9 384.1,100.8 384.6,101.1" fill="none" stroke="#e2826a" stroke-width="0.9" stroke-opacity="1.0" stroke-linejoin="round"/>
<polyline points="339.1,101.1 339.6,99.9 340.1,97.9 340.6,95.4 341.1,92.4 341.6,89.2 342.1,85.8 342.6,82.3 343.1,78.6 343.6,74.9 344.1,71.2 344.6,67.4 345.1,63.7 345.6,60.1 346.1,56.5 346.6,53.1 347.1,49.8 347.6,46.7 348.1,43.8 348.6,41.1 349.1,38.7 349.6,36.6 350.1,34.9 350.6,33.6 351.1,33.0 351.6,33.4 352.1,34.2 352.6,35.3 353.1,36.6 353.6,38.1 354.1,39.9 354.6,41.8 355.1,43.8 355.6,45.9 356.1,48.2 356.6,50.6 357.1,53.1 357.6,55.7 358.1,58.3 358.6,61.0 359.1,63.7 359.6,66.5 360.1,69.3 360.6,72.1 361.1,74.9 361.6,77.7 362.1,80.5 362.6,83.2 363.1,85.8 363.6,88.4 364.1,90.9 364.6,93.2 365.1,95.4 365.6,97.3 366.1,99.0 366.6,100.3 367.1,101.1" fill="none" stroke="#e8b0a0" stroke-width="0.6" stroke-opacity="1.0" stroke-linejoin="round"/>
<polyline points="340.6,101.1 341.1,100.0 341.6,98.0 342.1,95.6 342.6,92.8 343.1,89.7 343.6,86.4 344.1,82.9 344.6,79.3 345.1,75.7 345.6,72.0 346.1,68.2 346.6,64.5 347.1,60.8 347.6,57.2 348.1,53.6 348.6,50.2 349.1,46.9 349.6,43.7 350.1,40.7 350.6,38.0 351.1,35.4 351.6,33.1 352.1,31.1 352.6,29.5 353.1,28.3 353.6,27.7 354.1,28.2 354.6,29.3 355.1,30.7 355.6,32.5 356.1,34.4 356.6,36.6 357.1,39.0 357.6,41.3 358.1,43.7 358.6,45.9 359.1,47.8 359.6,49.2 360.1,50.0 360.6,50.1 361.1,49.7 361.6,48.8 362.1,47.8 362.6,46.7 363.1,45.6 363.6,44.8 364.1,44.3 364.6,44.5 365.1,45.0 365.6,45.7 366.1,46.6 366.6,47.6 367.1,48.7 367.6,50.0 368.1,51.3 368.6,52.8 369.1,54.3 369.6,56.0 370.1,57.7 370.6,59.4 371.1,61.2 371.6,63.1 372.1,65.0 372.6,67.0 373.1,69.0 373.6,71.0 374.1,73.0 374.6,75.0 375.1,77.1 375.6,79.1 376.1,81.2 376.6,83.2 377.1,85.2 377.6,87.1 378.1,89.0 378.6,90.9 379.1,92.7 379.6,94.4 380.1,96.0 380.6,97.4 381.1,98.8 381.6,99.9 382.1,100.7 382.6,101.1" fill="none" stroke="#23a8cc" stroke-width="1.3" stroke-opacity="1.0" stroke-linejoin="round"/>
<polyline points="338.1,101.1 338.6,100.5 339.1,98.7 339.6,96.3 340.1,93.4 340.6,90.2 341.1,86.8 341.6,83.2 342.1,79.4 342.6,75.6 343.1,71.7 343.6,67.8 344.1,63.9 344.6,60.0 345.1,56.2 345.6,52.5 346.1,48.9 346.6,45.5 347.1,42.2 347.6,39.1 348.1,36.3 348.6,33.7 349.1,31.4 349.6,29.5 350.1,28.0 350.6,27.1 351.1,27.2 351.6,28.2 352.1,29.7 352.6,31.5 353.1,33.6 353.6,36.0 354.1,38.5 354.6,41.1 355.1,43.6 355.6,46.0 356.1,48.0 356.6,49.4 357.1,50.2 357.6,50.4 358.1,50.2 358.6,49.8 359.1,49.4 359.6,49.5 360.1,49.8 360.6,50.3 361.1,50.9 361.6,51.5 362.1,52.3 362.6,53.1 363.1,54.0 363.6,55.0 364.1,56.0 364.6,57.1 365.1,58.3 365.6,59.5 366.1,60.7 366.6,62.0 367.1,63.3 367.6,64.7 368.1,66.1 368.6,67.5 369.1,69.0 369.6,70.5 370.1,72.0 370.6,73.5 371.1,75.0 371.6,76.5 372.1,78.1 372.6,79.6 373.1,81.2 373.6,82.7 374.1,84.2 374.6,85.7 375.1,87.2 375.6,88.7 376.1,90.1 376.6,91.5 377.1,92.9 377.6,94.2 378.1,95.5 378.6,96.6 379.1,97.7 379.6,98.8 380.1,99.6 380.6,100.4 381.1,100.9" fill="none" stroke="#1f7a3a" stroke-width="1.3" stroke-opacity="1.0" stroke-linejoin="round"/>
<polyline points="337.1,101.1 337.6,100.6 338.1,98.8 338.6,96.3 339.1,93.5 339.6,90.3 340.1,86.9 340.6,83.4 341.1,79.7 341.6,75.9 342.1,72.0 342.6,68.2 343.1,64.3 343.6,60.5 344.1,56.8 344.6,53.2 345.1,49.7 345.6,46.3 346.1,43.1 346.6,40.2 347.1,37.4 347.6,35.0 348.1,32.9 348.6,31.1 349.1,29.8 349.6,29.2 350.1,29.3 350.6,29.6 351.1,29.9 351.6,30.3 352.1,30.8 352.6,31.4 353.1,32.0 353.6,32.7 354.1,33.4 354.6,34.1 355.1,35.0 355.6,35.8 356.1,36.7 356.6,37.6 357.1,38.6 357.6,39.6 358.1,40.6 358.6,41.7 359.1,42.7 359.6,43.9 360.1,45.0 360.6,46.2 361.1,47.4 361.6,48.6 362.1,49.8 362.6,51.1 363.1,52.3 363.6,53.6 364.1,54.9 364.6,56.2 365.1,57.6 365.6,58.9 366.1,60.3 366.6,61.6 367.1,63.0 367.6,64.4 368.1,65.8 368.6,67.2 369.1,68.6 369.6,70.0 370.1,71.4 370.6,72.8 371.1,74.2 371.6,75.5 372.1,76.9 372.6,78.3 373.1,79.7 373.6,81.0 374.1,82.4 374.6,83.7 375.1,85.0 375.6,86.3 376.1,87.5 376.6,88.8 377.1,90.0 377.6,91.2 378.1,92.3 378.6,93.4 379.1,94.5 379.6,95.5 380.1,96.5 380.6,97.4 381.1,98.3 381.6,99.1 382.1,99.8 382.6,100.4 383.1,100.8 383.6,101.1" fill="none" stroke="#3fae3f" stroke-width="1.5" stroke-opacity="1.0" stroke-linejoin="round"/>
</g>
<line x1="328.6" y1="21.5" x2="328.6" y2="101.1" stroke="#8a8a8a" stroke-width="0.9"/>
<line x1="328.6" y1="101.1" x2="408.6" y2="101.1" stroke="#7a7a7a" stroke-width="0.9"/>
<line x1="326.0" y1="101.10" x2="328.6" y2="101.10" stroke="#555" stroke-width="0.8"/>
<text x="322.6" y="103.50" font-size="5.4" text-anchor="end" fill="#333">0</text>
<line x1="327.1" y1="93.53" x2="328.6" y2="93.53" stroke="#555" stroke-width="0.8"/>
<line x1="326.0" y1="85.96" x2="328.6" y2="85.96" stroke="#555" stroke-width="0.8"/>
<text x="322.6" y="88.36" font-size="5.4" text-anchor="end" fill="#333">20</text>
<line x1="327.1" y1="78.39" x2="328.6" y2="78.39" stroke="#555" stroke-width="0.8"/>
<line x1="326.0" y1="70.82" x2="328.6" y2="70.82" stroke="#555" stroke-width="0.8"/>
<text x="322.6" y="73.22" font-size="5.4" text-anchor="end" fill="#333">40</text>
<line x1="327.1" y1="63.25" x2="328.6" y2="63.25" stroke="#555" stroke-width="0.8"/>
<line x1="326.0" y1="55.68" x2="328.6" y2="55.68" stroke="#555" stroke-width="0.8"/>
<text x="322.6" y="58.08" font-size="5.4" text-anchor="end" fill="#333">60</text>
<line x1="327.1" y1="48.11" x2="328.6" y2="48.11" stroke="#555" stroke-width="0.8"/>
<line x1="326.0" y1="40.54" x2="328.6" y2="40.54" stroke="#555" stroke-width="0.8"/>
<text x="322.6" y="42.94" font-size="5.4" text-anchor="end" fill="#333">80</text>
<line x1="327.1" y1="32.97" x2="328.6" y2="32.97" stroke="#555" stroke-width="0.8"/>
<line x1="326.0" y1="25.40" x2="328.6" y2="25.40" stroke="#555" stroke-width="0.8"/>
<text x="322.6" y="27.80" font-size="5.4" text-anchor="end" fill="#333">100</text>
<line x1="336.40000000000003" y1="101.1" x2="336.40000000000003" y2="102.69999999999999" stroke="#444" stroke-width="0.8"/>
<line x1="347.6" y1="101.1" x2="347.6" y2="102.69999999999999" stroke="#444" stroke-width="0.8"/>
<line x1="361.0" y1="101.1" x2="361.0" y2="102.69999999999999" stroke="#444" stroke-width="0.8"/>
<line x1="382.3" y1="101.1" x2="382.3" y2="102.69999999999999" stroke="#444" stroke-width="0.8"/>
<line x1="400.5" y1="101.1" x2="400.5" y2="102.69999999999999" stroke="#444" stroke-width="0.8"/>
<rect x="345.1" y="100.5" width="4.2" height="1.6" fill="#111"/>
<text x="331.2" y="111.0" font-size="5.0" fill="#444">–10</text>
<text x="339.8" y="108.4" font-size="3.0" fill="#444">3</text>
<text x="348.2" y="111.0" font-size="5.0" text-anchor="middle" fill="#444">0</text>
<text x="361.2" y="111.0" font-size="5.0" text-anchor="middle" fill="#444">10</text>
<text x="364.1" y="108.4" font-size="3.0" fill="#444">3</text>
<text x="382.9" y="111.0" font-size="5.0" text-anchor="middle" fill="#444">10</text>
<text x="385.8" y="108.4" font-size="3.0" fill="#444">4</text>
<text x="401.6" y="111.0" font-size="5.0" text-anchor="middle" fill="#444">10</text>
<text x="404.5" y="108.4" font-size="3.0" fill="#444">5</text>
<text x="309.40000000000003" y="62.2" font-size="7.9" text-anchor="middle" fill="#2a2a2a" transform="rotate(-90 309.40000000000003 62.2) translate(0 2.7)" textLength="63" lengthAdjust="spacingAndGlyphs">Normalized to mode</text>
<text x="336.9" y="31.1" font-size="9.0" textLength="68.4" lengthAdjust="spacingAndGlyphs" class="s" fill="#111">Avg MFI = 1008</text>
<text x="379.2" y="45.4" font-size="8.2" textLength="24.6" lengthAdjust="spacingAndGlyphs" class="s" fill="#111">gp91 +</text>
<line x1="364.0" y1="48.9" x2="408.6" y2="48.9" stroke="#333" stroke-width="0.9"/>
<line x1="364.0" y1="47.6" x2="364.0" y2="50.199999999999996" stroke="#333" stroke-width="0.8"/>
<path d="M439.6,22.0 H519.6 V101.1" fill="none" stroke="#c9c9c9" stroke-width="1.1"/>
<g clip-path="url(#cp03)">
<polyline points="455.4,101.1 455.7,100.7 456.1,101.0 456.4,100.5 456.8,100.5 457.1,100.8 457.5,100.2 457.8,100.4 458.2,99.6 458.5,100.4 458.9,100.1 459.2,99.8 459.6,98.1 459.9,98.6 460.2,98.3 460.6,98.0 461.0,96.7 461.3,96.7 461.7,95.9 462.0,95.0 462.4,92.2 462.7,90.6 463.1,91.2 463.4,88.1 463.8,86.8 464.1,85.2 464.5,83.4 464.8,80.3 465.2,79.0 465.5,77.8 465.9,71.3 466.2,68.9 466.6,67.5 466.9,65.7 467.2,62.7 467.6,57.9 468.0,56.8 468.3,54.9 468.7,52.4 469.0,47.8 469.4,50.8 469.7,42.4 470.1,39.4 470.4,37.6 470.8,35.3 471.1,32.8 471.5,25.8 471.8,31.9 472.2,33.2 472.5,28.5 472.9,28.9 473.2,25.4 473.6,30.1 473.9,28.6 474.2,29.5 474.6,32.3 475.0,34.3 475.3,36.6 475.7,38.8 476.0,45.9 476.4,48.0 476.7,55.4 477.1,57.4 477.4,70.0 477.8,69.5 478.1,72.2 478.5,75.3 478.8,79.6 479.2,81.0 479.5,85.3 479.9,85.9 480.2,90.2 480.6,92.4 480.9,95.3 481.2,94.5 481.6,97.4 482.0,97.6 482.3,98.4 482.7,98.7 483.0,99.0 483.4,99.8 483.7,99.9 484.1,100.8 484.4,100.7 484.8,100.4 485.1,100.8 485.5,101.0 485.8,100.7 486.2,101.0" fill="none" stroke="#f39a2a" stroke-width="1.0" stroke-opacity="1.0" stroke-linejoin="round"/>
<polyline points="456.8,101.0 457.1,100.8 457.5,100.7 457.8,100.4 458.2,100.5 458.5,100.8 458.9,100.7 459.2,100.2 459.6,99.3 459.9,99.6 460.2,99.9 460.6,99.0 461.0,98.1 461.3,97.8 461.7,98.6 462.0,97.4 462.4,95.1 462.7,96.5 463.1,93.8 463.4,94.4 463.8,92.9 464.1,90.8 464.5,90.5 464.8,87.3 465.2,84.3 465.5,83.4 465.9,83.0 466.2,79.1 466.6,76.4 466.9,75.2 467.2,71.3 467.6,67.2 468.0,64.7 468.3,60.8 468.7,55.4 469.0,56.7 469.4,48.0 469.7,48.3 470.1,39.9 470.4,42.9 470.8,39.6 471.1,38.3 471.5,38.0 471.8,33.9 472.2,35.7 472.5,32.7 472.9,31.7 473.2,31.7 473.6,29.4 473.9,30.8 474.2,25.4 474.6,30.3 475.0,28.5 475.3,38.4 475.7,34.8 476.0,42.3 476.4,45.2 476.7,46.1 477.1,51.9 477.4,54.8 477.8,59.0 478.1,65.7 478.5,71.4 478.8,71.9 479.2,78.2 479.5,78.2 479.9,82.7 480.2,86.9 480.6,89.4 480.9,92.1 481.2,94.4 481.6,94.8 482.0,97.5 482.3,97.1 482.7,98.0 483.0,98.7 483.4,100.1 483.7,99.9 484.1,100.4 484.4,100.7 484.8,100.4 485.1,100.8 485.5,100.8 485.8,101.0 486.2,100.8 486.5,101.1" fill="none" stroke="#7cc46a" stroke-width="1.0" stroke-opacity="1.0" stroke-linejoin="round"/>
<polyline points="457.5,100.9 457.8,100.5 458.2,100.6 458.5,100.4 458.9,100.5 459.2,99.9 459.6,100.5 459.9,100.3 460.2,99.6 460.6,98.3 461.0,98.3 461.3,97.5 461.7,98.7 462.0,97.8 462.4,94.5 462.7,96.7 463.1,96.9 463.4,94.3 463.8,93.2 464.1,91.4 464.5,89.5 464.8,87.8 465.2,85.9 465.5,85.2 465.9,82.9 466.2,80.5 466.6,77.1 466.9,75.1 467.2,72.6 467.6,66.9 468.0,67.1 468.3,68.0 468.7,62.8 469.0,58.6 469.4,53.4 469.7,52.5 470.1,51.1 470.4,45.1 470.8,44.1 471.1,42.1 471.5,41.4 471.8,34.4 472.2,36.4 472.5,29.0 472.9,31.2 473.2,30.1 473.6,25.4 473.9,29.3 474.2,26.4 474.6,32.8 475.0,30.4 475.3,31.0 475.7,36.1 476.0,36.9 476.4,46.0 476.7,49.1 477.1,50.5 477.4,56.0 477.8,59.2 478.1,66.5 478.5,71.5 478.8,73.7 479.2,79.5 479.5,84.0 479.9,85.2 480.2,89.6 480.6,92.0 480.9,94.1 481.2,95.8 481.6,97.2 482.0,97.7 482.3,97.5 482.7,98.7 483.0,99.9 483.4,100.1 483.7,100.7 484.1,100.6 484.4,100.7 484.8,101.0" fill="none" stroke="#3fae3f" stroke-width="1.3" stroke-opacity="1.0" stroke-linejoin="round"/>
<polyline points="458.5,101.0 458.9,100.5 459.2,100.6 459.6,100.2 459.9,99.7 460.2,99.9 460.6,100.0 461.0,99.5 461.3,99.7 461.7,99.2 462.0,99.1 462.4,98.6 462.7,96.3 463.1,97.1 463.4,96.4 463.8,93.8 464.1,93.7 464.5,93.0 464.8,90.4 465.2,90.8 465.5,87.7 465.9,86.4 466.2,83.3 466.6,81.4 466.9,79.5 467.2,74.5 467.6,76.3 468.0,70.1 468.3,68.3 468.7,67.4 469.0,60.0 469.4,59.3 469.7,59.1 470.1,55.6 470.4,42.4 470.8,48.4 471.1,42.1 471.5,42.5 471.8,37.2 472.2,34.9 472.5,32.7 472.9,31.6 473.2,26.9 473.6,30.6 473.9,29.2 474.2,25.4 474.6,30.9 475.0,25.8 475.3,31.2 475.7,31.1 476.0,39.4 476.4,42.6 476.7,43.4 477.1,47.3 477.4,56.0 477.8,59.0 478.1,64.3 478.5,67.6 478.8,69.9 479.2,76.2 479.5,80.8 479.9,82.0 480.2,86.2 480.6,89.7 480.9,91.9 481.2,93.2 481.6,95.5 482.0,96.5 482.3,97.4 482.7,97.9 483.0,99.5 483.4,99.5 483.7,100.1 484.1,100.6 484.4,100.6 484.8,100.9 485.1,100.6 485.5,100.5 485.8,101.0" fill="none" stroke="#1f7a3a" stroke-width="1.0" stroke-opacity="1.0" stroke-linejoin="round"/>
</g>
<line x1="439.6" y1="21.5" x2="439.6" y2="101.1" stroke="#8a8a8a" stroke-width="0.9"/>
<line x1="439.6" y1="101.1" x2="519.6" y2="101.1" stroke="#7a7a7a" stroke-width="0.9"/>
<line x1="437.0" y1="101.10" x2="439.6" y2="101.10" stroke="#555" stroke-width="0.8"/>
<text x="433.6" y="103.50" font-size="5.4" text-anchor="end" fill="#333">0</text>
<line x1="438.1" y1="93.53" x2="439.6" y2="93.53" stroke="#555" stroke-width="0.8"/>
<line x1="437.0" y1="85.96" x2="439.6" y2="85.96" stroke="#555" stroke-width="0.8"/>
<text x="433.6" y="88.36" font-size="5.4" text-anchor="end" fill="#333">20</text>
<line x1="438.1" y1="78.39" x2="439.6" y2="78.39" stroke="#555" stroke-width="0.8"/>
<line x1="437.0" y1="70.82" x2="439.6" y2="70.82" stroke="#555" stroke-width="0.8"/>
<text x="433.6" y="73.22" font-size="5.4" text-anchor="end" fill="#333">40</text>
<line x1="438.1" y1="63.25" x2="439.6" y2="63.25" stroke="#555" stroke-width="0.8"/>
<line x1="437.0" y1="55.68" x2="439.6" y2="55.68" stroke="#555" stroke-width="0.8"/>
<text x="433.6" y="58.08" font-size="5.4" text-anchor="end" fill="#333">60</text>
<line x1="438.1" y1="48.11" x2="439.6" y2="48.11" stroke="#555" stroke-width="0.8"/>
<line x1="437.0" y1="40.54" x2="439.6" y2="40.54" stroke="#555" stroke-width="0.8"/>
<text x="433.6" y="42.94" font-size="5.4" text-anchor="end" fill="#333">80</text>
<line x1="438.1" y1="32.97" x2="439.6" y2="32.97" stroke="#555" stroke-width="0.8"/>
<line x1="437.0" y1="25.40" x2="439.6" y2="25.40" stroke="#555" stroke-width="0.8"/>
<text x="433.6" y="27.80" font-size="5.4" text-anchor="end" fill="#333">100</text>
<line x1="447.40000000000003" y1="101.1" x2="447.40000000000003" y2="102.69999999999999" stroke="#444" stroke-width="0.8"/>
<line x1="458.6" y1="101.1" x2="458.6" y2="102.69999999999999" stroke="#444" stroke-width="0.8"/>
<line x1="472.0" y1="101.1" x2="472.0" y2="102.69999999999999" stroke="#444" stroke-width="0.8"/>
<line x1="493.3" y1="101.1" x2="493.3" y2="102.69999999999999" stroke="#444" stroke-width="0.8"/>
<line x1="511.5" y1="101.1" x2="511.5" y2="102.69999999999999" stroke="#444" stroke-width="0.8"/>
<rect x="456.1" y="100.5" width="4.2" height="1.6" fill="#111"/>
<text x="442.2" y="111.0" font-size="5.0" fill="#444">–10</text>
<text x="450.8" y="108.4" font-size="3.0" fill="#444">3</text>
<text x="459.2" y="111.0" font-size="5.0" text-anchor="middle" fill="#444">0</text>
<text x="472.2" y="111.0" font-size="5.0" text-anchor="middle" fill="#444">10</text>
<text x="475.1" y="108.4" font-size="3.0" fill="#444">3</text>
<text x="493.9" y="111.0" font-size="5.0" text-anchor="middle" fill="#444">10</text>
<text x="496.8" y="108.4" font-size="3.0" fill="#444">4</text>
<text x="512.6" y="111.0" font-size="5.0" text-anchor="middle" fill="#444">10</text>
<text x="515.5" y="108.4" font-size="3.0" fill="#444">5</text>
<text x="420.40000000000003" y="62.2" font-size="7.9" text-anchor="middle" fill="#2a2a2a" transform="rotate(-90 420.40000000000003 62.2) translate(0 2.7)" textLength="63" lengthAdjust="spacingAndGlyphs">Normalized to mode</text>
<text x="446.2" y="31.1" font-size="9.0" textLength="68.0" lengthAdjust="spacingAndGlyphs" class="s" fill="#111">Avg MFI = 1275</text>
<text x="491.4" y="45.4" font-size="8.2" textLength="24.9" lengthAdjust="spacingAndGlyphs" class="s" fill="#111">gp91 +</text>
<line x1="483.6" y1="48.0" x2="519.6" y2="48.0" stroke="#333" stroke-width="0.9"/>
<line x1="483.6" y1="46.7" x2="483.6" y2="49.3" stroke="#333" stroke-width="0.8"/>
<path d="M106.0,118.0 H186.0 V196.5" fill="none" stroke="#c9c9c9" stroke-width="1.1"/>
<g clip-path="url(#cp10)">
<polyline points="106.0,194.8 106.3,191.4 106.7,196.5 107.0,186.2 107.4,191.4 107.8,193.1 108.1,189.7 108.5,187.9 108.8,193.1 109.2,189.7 109.5,191.4 109.8,194.8 110.2,187.9 110.5,182.8 110.9,189.7 111.2,182.8 111.6,189.7 112.0,186.2 112.3,179.4 112.7,186.2 113.0,191.4 113.3,184.5 113.7,187.9 114.0,181.1 114.4,181.1 114.8,179.4 115.1,177.7 115.5,167.4 115.8,169.1 116.2,177.7 116.5,162.3 116.8,152.0 117.2,158.8 117.5,167.4 117.9,164.0 118.2,167.4 118.6,158.8 119.0,155.4 119.3,138.3 119.7,162.3 120.0,145.2 120.3,150.3 120.7,150.3 121.0,164.0 121.4,128.0 121.8,141.7 122.1,129.8 122.5,143.4 122.8,134.9 123.2,121.2 123.5,152.0 123.8,165.7 124.2,134.9 124.5,148.6 124.9,128.0 125.2,138.3 125.6,146.9 126.0,138.3 126.3,143.4 126.7,133.2 127.0,158.8 127.3,153.7 127.7,146.9 128.1,145.2 128.4,148.6 128.8,162.3 129.1,146.9 129.4,140.0 129.8,140.0 130.2,150.3 130.5,162.3 130.8,150.3 131.2,164.0 131.6,157.1 131.9,160.6 132.2,143.4 132.6,164.0 132.9,170.8 133.3,157.1 133.7,164.0 134.0,157.1 134.3,150.3 134.7,167.4 135.1,157.1 135.4,146.9 135.8,158.8 136.1,172.5 136.4,160.6 136.8,153.7 137.2,152.0 137.5,146.9 137.8,145.2 138.2,143.4 138.6,153.7 138.9,152.0 139.2,165.7 139.6,150.3 139.9,162.3 140.3,157.1 140.7,152.0 141.0,148.6 141.3,158.8 141.7,145.2 142.1,140.0 142.4,155.4 142.8,170.8 143.1,162.3 143.4,177.7 143.8,169.1 144.2,164.0 144.5,176.0 144.8,176.0 145.2,179.4 145.6,179.4 145.9,182.8 146.2,179.4 146.6,186.2 146.9,187.9 147.3,189.7 147.7,189.7 148.0,189.7 148.3,187.9 148.7,186.2 149.1,189.7 149.4,191.4 149.8,186.2 150.1,189.7 150.4,189.7 150.8,184.5 151.2,186.2 151.5,184.5 151.8,184.5 152.2,189.7 152.6,196.5 152.9,189.7 153.2,196.5 153.6,193.1 153.9,193.1 154.3,189.7 154.7,194.8 155.0,194.8 155.3,189.7 155.7,191.4 156.1,193.1 156.4,194.8 156.8,191.4 157.1,194.8 157.4,194.8 157.8,193.1 158.2,191.4 158.5,196.5 158.8,193.1 159.2,193.1 159.6,193.1 159.9,186.2 160.2,194.8 160.6,193.1 160.9,193.1 161.3,194.8 161.7,196.5 162.0,194.8 162.3,196.5 162.7,196.5 163.1,194.8 163.4,196.5" fill="none" stroke="#23a8cc" stroke-width="0.8" stroke-opacity="1.0" stroke-linejoin="round"/>
<polyline points="106.0,191.5 106.3,191.5 106.7,189.0 107.0,194.0 107.4,194.0 107.8,191.5 108.1,191.5 108.5,181.4 108.8,191.5 109.2,189.0 109.5,183.9 109.8,181.4 110.2,189.0 110.5,189.0 110.9,186.5 111.2,186.5 111.6,189.0 112.0,173.9 112.3,173.9 112.7,176.4 113.0,176.4 113.3,189.0 113.7,181.4 114.0,176.4 114.4,171.4 114.8,178.9 115.1,151.3 115.5,146.3 115.8,158.8 116.2,153.8 116.5,168.9 116.8,158.8 117.2,153.8 117.5,148.8 117.9,161.4 118.2,166.4 118.6,158.8 119.0,141.3 119.3,133.8 119.7,138.8 120.0,151.3 120.3,153.8 120.7,128.7 121.0,143.8 121.4,151.3 121.8,128.7 122.1,148.8 122.5,133.8 122.8,143.8 123.2,141.3 123.5,121.2 123.8,141.3 124.2,126.2 124.5,133.8 124.9,121.2 125.2,148.8 125.6,133.8 126.0,143.8 126.3,158.8 126.7,121.2 127.0,141.3 127.3,148.8 127.7,161.4 128.1,161.4 128.4,143.8 128.8,148.8 129.1,133.8 129.4,151.3 129.8,156.3 130.2,148.8 130.5,153.8 130.8,138.8 131.2,143.8 131.6,151.3 131.9,158.8 132.2,138.8 132.6,151.3 132.9,156.3 133.3,151.3 133.7,161.4 134.0,166.4 134.3,171.4 134.7,163.9 135.1,163.9 135.4,173.9 135.8,163.9 136.1,151.3 136.4,161.4 136.8,176.4 137.2,181.4 137.5,176.4 137.8,168.9 138.2,183.9 138.6,163.9 138.9,171.4 139.2,178.9 139.6,176.4 139.9,168.9 140.3,173.9 140.7,173.9 141.0,161.4 141.3,161.4 141.7,173.9 142.1,189.0 142.4,183.9 142.8,186.5 143.1,178.9 143.4,181.4 143.8,186.5 144.2,176.4 144.5,183.9 144.8,186.5 145.2,176.4 145.6,181.4 145.9,191.5 146.2,178.9 146.6,183.9 146.9,183.9 147.3,178.9 147.7,191.5 148.0,194.0 148.3,181.4 148.7,189.0 149.1,178.9 149.4,183.9 149.8,194.0 150.1,183.9 150.4,183.9 150.8,194.0 151.2,186.5 151.5,189.0 151.8,186.5 152.2,183.9 152.6,196.5 152.9,196.5 153.2,191.5 153.6,194.0 153.9,196.5 154.3,191.5 154.7,189.0 155.0,196.5 155.3,191.5 155.7,194.0 156.1,194.0 156.4,196.5 156.8,186.5 157.1,189.0 157.4,191.5 157.8,196.5 158.2,196.5 158.5,191.5 158.8,194.0 159.2,186.5 159.6,194.0 159.9,189.0 160.2,196.5 160.6,194.0 160.9,196.5 161.3,196.5 161.7,196.5 162.0,196.5 162.3,196.5 162.7,196.5 163.1,196.5 163.4,196.5 163.8,194.0 164.1,196.5" fill="none" stroke="#d9533c" stroke-width="0.8" stroke-opacity="1.0" stroke-linejoin="round"/>
<polyline points="106.0,194.5 106.3,192.4 106.7,192.4 107.0,196.5 107.4,192.4 107.8,192.4 108.1,188.4 108.5,196.5 108.8,190.4 109.2,190.4 109.5,186.3 109.8,188.4 110.2,188.4 110.5,196.5 110.9,188.4 111.2,192.4 111.6,192.4 112.0,190.4 112.3,188.4 112.7,186.3 113.0,194.5 113.3,178.2 113.7,180.2 114.0,184.3 114.4,186.3 114.8,188.4 115.1,184.3 115.5,178.2 115.8,178.2 116.2,176.1 116.5,170.0 116.8,161.9 117.2,172.1 117.5,174.1 117.9,161.9 118.2,155.8 118.6,163.9 119.0,149.7 119.3,163.9 119.7,168.0 120.0,161.9 120.3,155.8 120.7,151.7 121.0,145.6 121.4,131.4 121.8,149.7 122.1,153.8 122.5,153.8 122.8,153.8 123.2,145.6 123.5,151.7 123.8,135.4 124.2,135.4 124.5,157.8 124.9,157.8 125.2,155.8 125.6,149.7 126.0,163.9 126.3,139.5 126.7,163.9 127.0,137.5 127.3,153.8 127.7,147.7 128.1,137.5 128.4,149.7 128.8,163.9 129.1,121.2 129.4,166.0 129.8,161.9 130.2,157.8 130.5,145.6 130.8,174.1 131.2,155.8 131.6,147.7 131.9,157.8 132.2,141.6 132.6,157.8 132.9,151.7 133.3,176.1 133.7,159.9 134.0,168.0 134.3,168.0 134.7,166.0 135.1,163.9 135.4,168.0 135.8,166.0 136.1,176.1 136.4,161.9 136.8,166.0 137.2,159.9 137.5,172.1 137.8,163.9 138.2,176.1 138.6,170.0 138.9,157.8 139.2,178.2 139.6,170.0 139.9,184.3 140.3,172.1 140.7,174.1 141.0,176.1 141.3,184.3 141.7,176.1 142.1,174.1 142.4,163.9 142.8,184.3 143.1,178.2 143.4,180.2 143.8,186.3 144.2,186.3 144.5,190.4 144.8,178.2 145.2,176.1 145.6,190.4 145.9,182.3 146.2,186.3 146.6,192.4 146.9,180.2 147.3,182.3 147.7,176.1 148.0,184.3 148.3,188.4 148.7,182.3 149.1,188.4 149.4,188.4 149.8,188.4 150.1,184.3 150.4,190.4 150.8,178.2 151.2,182.3 151.5,190.4 151.8,190.4 152.2,190.4 152.6,192.4 152.9,186.3 153.2,192.4 153.6,192.4 153.9,188.4 154.3,194.5 154.7,190.4 155.0,194.5 155.3,190.4 155.7,188.4 156.1,190.4 156.4,190.4 156.8,190.4 157.1,194.5 157.4,192.4 157.8,188.4 158.2,192.4 158.5,196.5 158.8,194.5 159.2,186.3 159.6,186.3 159.9,190.4 160.2,194.5 160.6,188.4 160.9,194.5 161.3,188.4 161.7,192.4 162.0,192.4 162.3,192.4 162.7,194.5 163.1,194.5 163.4,192.4 163.8,192.4 164.1,196.5 164.4,194.5 164.8,196.5 165.2,196.5 165.5,196.5 165.8,196.5 166.2,196.5 166.6,196.5 166.9,196.5 167.2,196.5 167.6,196.5 167.9,196.5 168.3,196.5 168.7,196.5 169.0,194.5 169.3,196.5" fill="none" stroke="#f39a2a" stroke-width="0.8" stroke-opacity="1.0" stroke-linejoin="round"/>
<polyline points="106.0,196.5 106.3,194.2 106.7,196.5 107.0,189.7 107.4,194.2 107.8,194.2 108.1,185.1 108.5,194.2 108.8,196.5 109.2,189.7 109.5,194.2 109.8,187.4 110.2,191.9 110.5,191.9 110.9,196.5 111.2,191.9 111.6,185.1 112.0,189.7 112.3,185.1 112.7,187.4 113.0,191.9 113.3,191.9 113.7,180.5 114.0,187.4 114.4,182.8 114.8,171.4 115.1,185.1 115.5,180.5 115.8,173.7 116.2,187.4 116.5,169.1 116.8,178.2 117.2,157.7 117.5,171.4 117.9,171.4 118.2,176.0 118.6,146.3 119.0,153.1 119.3,166.8 119.7,141.7 120.0,144.0 120.3,162.3 120.7,153.1 121.0,141.7 121.4,141.7 121.8,121.2 122.1,144.0 122.5,169.1 122.8,146.3 123.2,162.3 123.5,123.5 123.8,148.6 124.2,132.6 124.5,155.4 124.9,162.3 125.2,144.0 125.6,153.1 126.0,157.7 126.3,130.3 126.7,157.7 127.0,137.2 127.3,160.0 127.7,157.7 128.1,148.6 128.4,148.6 128.8,144.0 129.1,146.3 129.4,153.1 129.8,141.7 130.2,153.1 130.5,150.9 130.8,148.6 131.2,162.3 131.6,171.4 131.9,155.4 132.2,171.4 132.6,153.1 132.9,171.4 133.3,164.6 133.7,155.4 134.0,157.7 134.3,173.7 134.7,164.6 135.1,150.9 135.4,166.8 135.8,162.3 136.1,178.2 136.4,157.7 136.8,160.0 137.2,162.3 137.5,169.1 137.8,160.0 138.2,178.2 138.6,176.0 138.9,176.0 139.2,178.2 139.6,169.1 139.9,173.7 140.3,171.4 140.7,185.1 141.0,189.7 141.3,178.2 141.7,180.5 142.1,180.5 142.4,178.2 142.8,182.8 143.1,180.5 143.4,189.7 143.8,185.1 144.2,178.2 144.5,182.8 144.8,187.4 145.2,178.2 145.6,189.7 145.9,187.4 146.2,194.2 146.6,191.9 146.9,185.1 147.3,189.7 147.7,178.2 148.0,191.9 148.3,180.5 148.7,191.9 149.1,182.8 149.4,182.8 149.8,187.4 150.1,185.1 150.4,187.4 150.8,191.9 151.2,196.5 151.5,185.1 151.8,194.2 152.2,189.7 152.6,189.7 152.9,189.7 153.2,191.9 153.6,185.1 153.9,189.7 154.3,189.7 154.7,191.9 155.0,196.5 155.3,196.5 155.7,191.9 156.1,191.9 156.4,191.9 156.8,194.2 157.1,194.2 157.4,185.1 157.8,191.9 158.2,191.9 158.5,196.5 158.8,189.7 159.2,187.4 159.6,191.9 159.9,194.2 160.2,196.5 160.6,194.2 160.9,189.7 161.3,194.2 161.7,191.9 162.0,196.5 162.3,191.9 162.7,196.5 163.1,191.9 163.4,196.5 163.8,189.7 164.1,194.2 164.4,196.5" fill="none" stroke="#7cc46a" stroke-width="0.8" stroke-opacity="1.0" stroke-linejoin="round"/>
<polyline points="106.3,196.5 106.7,194.1 107.0,194.1 107.4,194.1 107.8,189.2 108.1,184.4 108.5,184.4 108.8,194.1 109.2,189.2 109.5,196.5 109.8,186.8 110.2,191.6 110.5,189.2 110.9,184.4 111.2,186.8 111.6,189.2 112.0,186.8 112.3,191.6 112.7,184.4 113.0,181.9 113.3,181.9 113.7,181.9 114.0,184.4 114.4,174.6 114.8,177.1 115.1,179.5 115.5,189.2 115.8,169.8 116.2,169.8 116.5,162.5 116.8,172.2 117.2,172.2 117.5,157.6 117.9,152.8 118.2,138.2 118.6,172.2 119.0,155.2 119.3,152.8 119.7,162.5 120.0,152.8 120.3,143.1 120.7,157.6 121.0,130.9 121.4,140.6 121.8,143.1 122.1,143.1 122.5,133.3 122.8,147.9 123.2,162.5 123.5,160.1 123.8,157.6 124.2,121.2 124.5,143.1 124.9,164.9 125.2,152.8 125.6,135.8 126.0,138.2 126.3,138.2 126.7,128.5 127.0,155.2 127.3,145.5 127.7,152.8 128.1,145.5 128.4,150.3 128.8,147.9 129.1,162.5 129.4,162.5 129.8,150.3 130.2,164.9 130.5,140.6 130.8,145.5 131.2,150.3 131.6,174.6 131.9,160.1 132.2,152.8 132.6,172.2 132.9,157.6 133.3,167.4 133.7,152.8 134.0,160.1 134.3,164.9 134.7,155.2 135.1,169.8 135.4,164.9 135.8,177.1 136.1,174.6 136.4,155.2 136.8,164.9 137.2,160.1 137.5,167.4 137.8,169.8 138.2,164.9 138.6,155.2 138.9,172.2 139.2,177.1 139.6,177.1 139.9,177.1 140.3,167.4 140.7,172.2 141.0,177.1 141.3,186.8 141.7,179.5 142.1,174.6 142.4,179.5 142.8,174.6 143.1,179.5 143.4,174.6 143.8,184.4 144.2,189.2 144.5,186.8 144.8,184.4 145.2,184.4 145.6,186.8 145.9,194.1 146.2,191.6 146.6,177.1 146.9,179.5 147.3,191.6 147.7,181.9 148.0,186.8 148.3,191.6 148.7,184.4 149.1,186.8 149.4,186.8 149.8,186.8 150.1,184.4 150.4,177.1 150.8,189.2 151.2,191.6 151.5,194.1 151.8,191.6 152.2,191.6 152.6,189.2 152.9,191.6 153.2,189.2 153.6,184.4 153.9,189.2 154.3,191.6 154.7,191.6 155.0,196.5 155.3,194.1 155.7,186.8 156.1,189.2 156.4,186.8 156.8,189.2 157.1,191.6 157.4,196.5 157.8,194.1 158.2,194.1 158.5,196.5 158.8,184.4 159.2,191.6 159.6,191.6 159.9,194.1 160.2,194.1 160.6,191.6 160.9,196.5 161.3,194.1 161.7,194.1 162.0,194.1 162.3,191.6 162.7,191.6 163.1,194.1 163.4,196.5 163.8,194.1 164.1,194.1 164.4,196.5" fill="none" stroke="#3fae3f" stroke-width="0.8" stroke-opacity="1.0" stroke-linejoin="round"/>
</g>
<line x1="106.0" y1="117.5" x2="106.0" y2="196.5" stroke="#8a8a8a" stroke-width="0.9"/>
<line x1="106.0" y1="196.5" x2="186.0" y2="196.5" stroke="#7a7a7a" stroke-width="0.9"/>
<line x1="103.4" y1="196.50" x2="106.0" y2="196.50" stroke="#555" stroke-width="0.8"/>
<text x="100.0" y="198.90" font-size="5.4" text-anchor="end" fill="#333">0</text>
<line x1="104.5" y1="188.97" x2="106.0" y2="188.97" stroke="#555" stroke-width="0.8"/>
<line x1="103.4" y1="181.44" x2="106.0" y2="181.44" stroke="#555" stroke-width="0.8"/>
<text x="100.0" y="183.84" font-size="5.4" text-anchor="end" fill="#333">20</text>
<line x1="104.5" y1="173.91" x2="106.0" y2="173.91" stroke="#555" stroke-width="0.8"/>
<line x1="103.4" y1="166.38" x2="106.0" y2="166.38" stroke="#555" stroke-width="0.8"/>
<text x="100.0" y="168.78" font-size="5.4" text-anchor="end" fill="#333">40</text>
<line x1="104.5" y1="158.85" x2="106.0" y2="158.85" stroke="#555" stroke-width="0.8"/>
<line x1="103.4" y1="151.32" x2="106.0" y2="151.32" stroke="#555" stroke-width="0.8"/>
<text x="100.0" y="153.72" font-size="5.4" text-anchor="end" fill="#333">60</text>
<line x1="104.5" y1="143.79" x2="106.0" y2="143.79" stroke="#555" stroke-width="0.8"/>
<line x1="103.4" y1="136.26" x2="106.0" y2="136.26" stroke="#555" stroke-width="0.8"/>
<text x="100.0" y="138.66" font-size="5.4" text-anchor="end" fill="#333">80</text>
<line x1="104.5" y1="128.73" x2="106.0" y2="128.73" stroke="#555" stroke-width="0.8"/>
<line x1="103.4" y1="121.20" x2="106.0" y2="121.20" stroke="#555" stroke-width="0.8"/>
<text x="100.0" y="123.60" font-size="5.4" text-anchor="end" fill="#333">100</text>
<line x1="113.8" y1="196.5" x2="113.8" y2="198.1" stroke="#444" stroke-width="0.8"/>
<line x1="125.0" y1="196.5" x2="125.0" y2="198.1" stroke="#444" stroke-width="0.8"/>
<line x1="138.4" y1="196.5" x2="138.4" y2="198.1" stroke="#444" stroke-width="0.8"/>
<line x1="159.7" y1="196.5" x2="159.7" y2="198.1" stroke="#444" stroke-width="0.8"/>
<line x1="177.9" y1="196.5" x2="177.9" y2="198.1" stroke="#444" stroke-width="0.8"/>
<rect x="122.5" y="195.9" width="4.2" height="1.6" fill="#111"/>
<text x="108.6" y="206.4" font-size="5.0" fill="#444">–10</text>
<text x="117.2" y="203.8" font-size="3.0" fill="#444">3</text>
<text x="125.6" y="206.4" font-size="5.0" text-anchor="middle" fill="#444">0</text>
<text x="138.6" y="206.4" font-size="5.0" text-anchor="middle" fill="#444">10</text>
<text x="141.5" y="203.8" font-size="3.0" fill="#444">3</text>
<text x="160.3" y="206.4" font-size="5.0" text-anchor="middle" fill="#444">10</text>
<text x="163.2" y="203.8" font-size="3.0" fill="#444">4</text>
<text x="179.0" y="206.4" font-size="5.0" text-anchor="middle" fill="#444">10</text>
<text x="181.9" y="203.8" font-size="3.0" fill="#444">5</text>
<text x="86.8" y="158.2" font-size="7.9" text-anchor="middle" fill="#2a2a2a" transform="rotate(-90 86.8 158.2) translate(0 2.7)" textLength="63" lengthAdjust="spacingAndGlyphs">Normalized to mode</text>
<text x="120.0" y="128.6" font-size="9.0" textLength="62.3" lengthAdjust="spacingAndGlyphs" class="s" fill="#111">Avg MFI = 517</text>
<text x="157.0" y="141.8" font-size="8.2" textLength="25.3" lengthAdjust="spacingAndGlyphs" class="s" fill="#111">gp91 +</text>
<line x1="137.7" y1="146.8" x2="186.0" y2="146.8" stroke="#333" stroke-width="0.9"/>
<line x1="137.7" y1="145.5" x2="137.7" y2="148.10000000000002" stroke="#333" stroke-width="0.8"/>
<path d="M217.6,118.0 H297.6 V196.5" fill="none" stroke="#c9c9c9" stroke-width="1.1"/>
<g clip-path="url(#cp11)">
<polyline points="220.0,196.5 220.3,193.4 220.7,195.0 221.0,193.4 221.4,195.0 221.8,191.9 222.1,195.0 222.4,190.4 222.8,190.4 223.2,187.3 223.5,195.0 223.8,195.0 224.2,193.4 224.5,187.3 224.9,196.5 225.2,193.4 225.6,191.9 225.9,191.9 226.3,190.4 226.7,193.4 227.0,191.9 227.3,190.4 227.7,190.4 228.1,195.0 228.4,193.4 228.8,191.9 229.1,191.9 229.4,193.4 229.8,190.4 230.2,191.9 230.5,195.0 230.8,193.4 231.2,193.4 231.6,195.0 231.9,179.6 232.2,193.4 232.6,190.4 232.9,191.9 233.3,191.9 233.7,193.4 234.0,187.3 234.3,191.9 234.7,187.3 235.1,188.8 235.4,188.8 235.8,187.3 236.1,184.2 236.4,181.1 236.8,184.2 237.2,182.7 237.5,182.7 237.8,181.1 238.2,179.6 238.6,178.1 238.9,168.8 239.2,171.9 239.6,167.3 239.9,175.0 240.3,164.2 240.7,162.7 241.0,167.3 241.3,150.4 241.7,170.4 242.1,158.1 242.4,145.8 242.8,145.8 243.1,144.3 243.4,141.2 243.8,121.2 244.2,135.0 244.5,141.2 244.8,136.6 245.2,127.3 245.6,138.1 245.9,135.0 246.2,128.9 246.6,128.9 246.9,148.9 247.3,135.0 247.7,136.6 248.0,133.5 248.3,124.3 248.7,133.5 249.1,135.0 249.4,139.6 249.8,139.6 250.1,128.9 250.4,156.5 250.8,147.3 251.2,127.3 251.5,141.2 251.8,136.6 252.2,145.8 252.6,142.7 252.9,150.4 253.2,144.3 253.6,138.1 253.9,161.2 254.3,156.5 254.7,148.9 255.0,150.4 255.3,161.2 255.7,136.6 256.1,162.7 256.4,167.3 256.8,150.4 257.1,162.7 257.4,161.2 257.8,167.3 258.1,158.1 258.5,167.3 258.9,170.4 259.2,165.8 259.6,168.8 259.9,178.1 260.2,175.0 260.6,181.1 260.9,176.5 261.3,176.5 261.6,179.6 262.0,182.7 262.4,182.7 262.7,175.0 263.1,171.9 263.4,179.6 263.8,173.4 264.1,188.8 264.4,182.7 264.8,187.3 265.1,181.1 265.5,193.4 265.9,179.6 266.2,184.2 266.6,184.2 266.9,181.1 267.2,184.2 267.6,195.0 267.9,188.8 268.3,187.3 268.6,188.8 269.0,185.7 269.4,187.3 269.7,182.7 270.1,193.4 270.4,182.7 270.8,191.9 271.1,188.8 271.4,193.4 271.8,187.3 272.1,187.3 272.5,193.4 272.9,190.4 273.2,191.9 273.6,195.0 273.9,191.9 274.2,195.0 274.6,190.4 274.9,188.8 275.3,193.4 275.6,190.4 276.0,191.9 276.4,191.9 276.7,191.9 277.1,195.0 277.4,193.4 277.8,188.8 278.1,196.5 278.4,195.0 278.8,196.5 279.2,193.4 279.5,196.5" fill="none" stroke="#f39a2a" stroke-width="0.8" stroke-opacity="1.0" stroke-linejoin="round"/>
<polyline points="220.3,196.5 220.7,193.1 221.0,196.5 221.4,193.1 221.8,196.5 222.1,193.1 222.4,193.1 222.8,193.1 223.2,189.7 223.5,186.2 223.8,193.1 224.2,196.5 224.5,186.2 224.9,193.1 225.2,189.7 225.6,193.1 225.9,196.5 226.3,196.5 226.7,189.7 227.0,196.5 227.3,196.5 227.7,196.5 228.1,189.7 228.4,193.1 228.8,189.7 229.1,196.5 229.4,193.1 229.8,193.1 230.2,196.5 230.5,196.5 230.8,193.1 231.2,193.1 231.6,196.5 231.9,193.1 232.2,189.7 232.6,186.2 232.9,193.1 233.3,193.1 233.7,193.1 234.0,196.5 234.3,196.5 234.7,193.1 235.1,189.7 235.4,193.1 235.8,186.2 236.1,179.4 236.4,186.2 236.8,189.7 237.2,189.7 237.5,172.5 237.8,182.8 238.2,182.8 238.6,189.7 238.9,186.2 239.2,172.5 239.6,172.5 239.9,176.0 240.3,155.4 240.7,176.0 241.0,162.3 241.3,162.3 241.7,134.9 242.1,162.3 242.4,172.5 242.8,155.4 243.1,152.0 243.4,162.3 243.8,138.3 244.2,145.2 244.5,138.3 244.8,162.3 245.2,138.3 245.6,169.1 245.9,138.3 246.2,145.2 246.6,152.0 246.9,138.3 247.3,145.2 247.7,145.2 248.0,128.0 248.3,138.3 248.7,145.2 249.1,148.6 249.4,145.2 249.8,158.8 250.1,121.2 250.4,141.7 250.8,141.7 251.2,158.8 251.5,128.0 251.8,162.3 252.2,172.5 252.6,155.4 252.9,182.8 253.2,169.1 253.6,162.3 253.9,155.4 254.3,165.7 254.7,158.8 255.0,165.7 255.3,176.0 255.7,169.1 256.1,158.8 256.4,162.3 256.8,182.8 257.1,172.5 257.4,179.4 257.8,169.1 258.1,169.1 258.5,158.8 258.9,179.4 259.2,179.4 259.6,179.4 259.9,182.8 260.2,182.8 260.6,179.4 260.9,186.2 261.3,182.8 261.6,193.1 262.0,169.1 262.4,182.8 262.7,179.4 263.1,189.7 263.4,193.1 263.8,189.7 264.1,193.1 264.4,182.8 264.8,182.8 265.1,193.1 265.5,182.8 265.9,193.1 266.2,182.8 266.6,189.7 266.9,196.5 267.2,189.7 267.6,196.5 267.9,196.5 268.3,196.5 268.6,196.5 269.0,196.5 269.4,193.1 269.7,196.5 270.1,196.5 270.4,196.5 270.8,196.5 271.1,196.5 271.4,196.5 271.8,196.5 272.1,189.7 272.5,186.2 272.9,193.1 273.2,193.1 273.6,193.1 273.9,196.5 274.2,196.5 274.6,196.5 274.9,179.4 275.3,186.2 275.6,189.7 276.0,193.1 276.4,196.5 276.7,196.5 277.1,193.1 277.4,196.5" fill="none" stroke="#23a8cc" stroke-width="0.8" stroke-opacity="1.0" stroke-linejoin="round"/>
<polyline points="220.0,196.5 220.3,194.6 220.7,194.6 221.0,190.7 221.4,194.6 221.8,194.6 222.1,196.5 222.4,190.7 222.8,196.5 223.2,194.6 223.5,192.6 223.8,183.0 224.2,196.5 224.5,190.7 224.9,186.8 225.2,192.6 225.6,192.6 225.9,196.5 226.3,196.5 226.7,184.9 227.0,196.5 227.3,190.7 227.7,196.5 228.1,194.6 228.4,194.6 228.8,190.7 229.1,192.6 229.4,190.7 229.8,196.5 230.2,188.8 230.5,192.6 230.8,194.6 231.2,196.5 231.6,192.6 231.9,190.7 232.2,190.7 232.6,194.6 232.9,192.6 233.3,194.6 233.7,192.6 234.0,186.8 234.3,186.8 234.7,190.7 235.1,184.9 235.4,190.7 235.8,192.6 236.1,192.6 236.4,177.2 236.8,186.8 237.2,186.8 237.5,190.7 237.8,183.0 238.2,179.1 238.6,186.8 238.9,171.4 239.2,171.4 239.6,175.3 239.9,165.6 240.3,161.7 240.7,165.6 241.0,161.7 241.3,179.1 241.7,165.6 242.1,157.9 242.4,121.2 242.8,152.1 243.1,175.3 243.4,136.6 243.8,154.0 244.2,150.2 244.5,157.9 244.8,136.6 245.2,140.5 245.6,123.1 245.9,144.4 246.2,150.2 246.6,154.0 246.9,150.2 247.3,140.5 247.7,125.1 248.0,132.8 248.3,144.4 248.7,146.3 249.1,128.9 249.4,128.9 249.8,142.4 250.1,148.2 250.4,138.6 250.8,150.2 251.2,152.1 251.5,144.4 251.8,157.9 252.2,169.5 252.6,146.3 252.9,154.0 253.2,157.9 253.6,148.2 253.9,165.6 254.3,152.1 254.7,165.6 255.0,165.6 255.3,163.7 255.7,159.8 256.1,167.5 256.4,157.9 256.8,165.6 257.1,159.8 257.4,173.3 257.8,167.5 258.1,179.1 258.5,179.1 258.9,179.1 259.2,181.1 259.6,184.9 259.9,175.3 260.2,169.5 260.6,181.1 260.9,186.8 261.3,177.2 261.6,186.8 262.0,186.8 262.4,183.0 262.7,181.1 263.1,186.8 263.4,188.8 263.8,179.1 264.1,194.6 264.4,184.9 264.8,190.7 265.1,183.0 265.5,186.8 265.9,186.8 266.2,186.8 266.6,186.8 266.9,192.6 267.2,188.8 267.6,192.6 267.9,194.6 268.3,190.7 268.6,183.0 269.0,188.8 269.4,194.6 269.7,192.6 270.1,188.8 270.4,190.7 270.8,192.6 271.1,184.9 271.4,184.9 271.8,184.9 272.1,190.7 272.5,192.6 272.9,188.8 273.2,188.8 273.6,186.8 273.9,196.5 274.2,192.6 274.6,192.6 274.9,192.6 275.3,192.6 275.6,194.6 276.0,190.7 276.4,190.7 276.7,192.6 277.1,192.6 277.4,196.5 277.8,194.6 278.1,194.6 278.4,194.6 278.8,196.5" fill="none" stroke="#3fae3f" stroke-width="0.8" stroke-opacity="1.0" stroke-linejoin="round"/>
</g>
<line x1="217.6" y1="117.5" x2="217.6" y2="196.5" stroke="#8a8a8a" stroke-width="0.9"/>
<line x1="217.6" y1="196.5" x2="297.6" y2="196.5" stroke="#7a7a7a" stroke-width="0.9"/>
<line x1="215.0" y1="196.50" x2="217.6" y2="196.50" stroke="#555" stroke-width="0.8"/>
<text x="211.6" y="198.90" font-size="5.4" text-anchor="end" fill="#333">0</text>
<line x1="216.1" y1="188.97" x2="217.6" y2="188.97" stroke="#555" stroke-width="0.8"/>
<line x1="215.0" y1="181.44" x2="217.6" y2="181.44" stroke="#555" stroke-width="0.8"/>
<text x="211.6" y="183.84" font-size="5.4" text-anchor="end" fill="#333">20</text>
<line x1="216.1" y1="173.91" x2="217.6" y2="173.91" stroke="#555" stroke-width="0.8"/>
<line x1="215.0" y1="166.38" x2="217.6" y2="166.38" stroke="#555" stroke-width="0.8"/>
<text x="211.6" y="168.78" font-size="5.4" text-anchor="end" fill="#333">40</text>
<line x1="216.1" y1="158.85" x2="217.6" y2="158.85" stroke="#555" stroke-width="0.8"/>
<line x1="215.0" y1="151.32" x2="217.6" y2="151.32" stroke="#555" stroke-width="0.8"/>
<text x="211.6" y="153.72" font-size="5.4" text-anchor="end" fill="#333">60</text>
<line x1="216.1" y1="143.79" x2="217.6" y2="143.79" stroke="#555" stroke-width="0.8"/>
<line x1="215.0" y1="136.26" x2="217.6" y2="136.26" stroke="#555" stroke-width="0.8"/>
<text x="211.6" y="138.66" font-size="5.4" text-anchor="end" fill="#333">80</text>
<line x1="216.1" y1="128.73" x2="217.6" y2="128.73" stroke="#555" stroke-width="0.8"/>
<line x1="215.0" y1="121.20" x2="217.6" y2="121.20" stroke="#555" stroke-width="0.8"/>
<text x="211.6" y="123.60" font-size="5.4" text-anchor="end" fill="#333">100</text>
<line x1="225.4" y1="196.5" x2="225.4" y2="198.1" stroke="#444" stroke-width="0.8"/>
<line x1="236.6" y1="196.5" x2="236.6" y2="198.1" stroke="#444" stroke-width="0.8"/>
<line x1="250.0" y1="196.5" x2="250.0" y2="198.1" stroke="#444" stroke-width="0.8"/>
<line x1="271.3" y1="196.5" x2="271.3" y2="198.1" stroke="#444" stroke-width="0.8"/>
<line x1="289.5" y1="196.5" x2="289.5" y2="198.1" stroke="#444" stroke-width="0.8"/>
<rect x="234.1" y="195.9" width="4.2" height="1.6" fill="#111"/>
<text x="220.2" y="206.4" font-size="5.0" fill="#444">–10</text>
<text x="228.8" y="203.8" font-size="3.0" fill="#444">3</text>
<text x="237.2" y="206.4" font-size="5.0" text-anchor="middle" fill="#444">0</text>
<text x="250.2" y="206.4" font-size="5.0" text-anchor="middle" fill="#444">10</text>
<text x="253.1" y="203.8" font-size="3.0" fill="#444">3</text>
<text x="271.9" y="206.4" font-size="5.0" text-anchor="middle" fill="#444">10</text>
<text x="274.8" y="203.8" font-size="3.0" fill="#444">4</text>
<text x="290.6" y="206.4" font-size="5.0" text-anchor="middle" fill="#444">10</text>
<text x="293.5" y="203.8" font-size="3.0" fill="#444">5</text>
<text x="198.4" y="158.2" font-size="7.9" text-anchor="middle" fill="#2a2a2a" transform="rotate(-90 198.4 158.2) translate(0 2.7)" textLength="63" lengthAdjust="spacingAndGlyphs">Normalized to mode</text>
<text x="230.8" y="128.6" font-size="9.0" textLength="62.2" lengthAdjust="spacingAndGlyphs" class="s" fill="#111">Avg MFI = 992</text>
<text x="270.0" y="141.8" font-size="8.2" textLength="25.5" lengthAdjust="spacingAndGlyphs" class="s" fill="#111">gp91 +</text>
<line x1="252.3" y1="146.0" x2="297.6" y2="146.0" stroke="#333" stroke-width="0.9"/>
<line x1="252.3" y1="144.7" x2="252.3" y2="147.3" stroke="#333" stroke-width="0.8"/>
<path d="M328.6,118.0 H408.6 V196.5" fill="none" stroke="#c9c9c9" stroke-width="1.1"/>
<g clip-path="url(#cp12)">
<polyline points="332.6,196.5 333.1,196.0 333.6,194.7 334.1,193.0 334.6,191.1 335.1,188.9 335.6,186.6 336.1,184.1 336.6,181.5 337.1,178.8 337.6,176.1 338.1,173.2 338.6,170.4 339.1,167.5 339.6,164.6 340.1,161.7 340.6,158.8 341.1,156.0 341.6,153.2 342.1,150.4 342.6,147.7 343.1,145.1 343.6,142.6 344.1,140.1 344.6,137.8 345.1,135.6 345.6,133.5 346.1,131.6 346.6,129.8 347.1,128.2 347.6,126.8 348.1,125.6 348.6,124.8 349.1,124.2 349.6,124.3 350.1,124.6 350.6,125.2 351.1,126.0 351.6,127.0 352.1,128.2 352.6,129.6 353.1,131.3 353.6,133.1 354.1,135.0 354.6,137.1 355.1,139.4 355.6,141.7 356.1,144.1 356.6,146.6 357.1,149.1 357.6,151.6 358.1,154.2 358.6,156.7 359.1,159.2 359.6,161.7 360.1,164.1 360.6,166.5 361.1,168.7 361.6,170.9 362.1,173.0 362.6,175.0 363.1,176.9 363.6,178.7 364.1,180.4 364.6,182.0 365.1,183.4 365.6,184.8 366.1,186.0 366.6,187.2 367.1,188.2 367.6,189.2 368.1,190.0 368.6,190.8 369.1,191.5 369.6,192.2 370.1,192.7 370.6,193.2 371.1,193.7 371.6,194.1 372.1,194.4 372.6,194.7 373.1,195.0 373.6,195.2 374.1,195.4 374.6,195.6 375.1,195.7 375.6,195.9 376.1,196.0 376.6,196.0 377.1,196.1 377.6,196.2 378.1,196.2 378.6,196.3" fill="none" stroke="#f2a65a" stroke-width="0.9" stroke-opacity="1.0" stroke-linejoin="round"/>
<polyline points="333.1,196.5 333.6,195.7 334.1,194.4 334.6,192.6 335.1,190.6 335.6,188.4 336.1,186.0 336.6,183.5 337.1,180.8 337.6,178.1 338.1,175.3 338.6,172.4 339.1,169.5 339.6,166.6 340.1,163.7 340.6,160.8 341.1,157.9 341.6,155.0 342.1,152.2 342.6,149.4 343.1,146.7 343.6,144.1 344.1,141.5 344.6,139.1 345.1,136.7 345.6,134.5 346.1,132.4 346.6,130.5 347.1,128.7 347.6,127.2 348.1,125.8 348.6,124.7 349.1,123.9 349.6,123.5 350.1,123.6 350.6,124.0 351.1,124.6 351.6,125.5 352.1,126.6 352.6,127.9 353.1,129.4 353.6,131.1 354.1,133.0 354.6,135.1 355.1,137.3 355.6,139.6 356.1,142.0 356.6,144.5 357.1,147.0 357.6,149.6 358.1,152.2 358.6,154.8 359.1,157.4 359.6,159.9 360.1,162.4 360.6,164.9 361.1,167.3 361.6,169.5 362.1,171.7 362.6,173.8 363.1,175.8 363.6,177.7 364.1,179.5 364.6,181.1 365.1,182.6 365.6,184.1 366.1,185.4 366.6,186.6 367.1,187.7 367.6,188.7 368.1,189.7 368.6,190.5 369.1,191.2 369.6,191.9 370.1,192.5 370.6,193.0 371.1,193.5 371.6,193.9 372.1,194.3 372.6,194.6 373.1,194.9 373.6,195.1 374.1,195.4 374.6,195.5 375.1,195.7 375.6,195.8 376.1,195.9 376.6,196.0 377.1,196.1 377.6,196.2 378.1,196.2 378.6,196.3" fill="none" stroke="#e2745a" stroke-width="1.0" stroke-opacity="1.0" stroke-linejoin="round"/>
<polyline points="338.6,196.5 339.1,195.4 339.6,193.3 340.1,190.7 340.6,187.8 341.1,184.6 341.6,181.2 342.1,177.6 342.6,173.9 343.1,170.1 343.6,166.3 344.1,162.5 344.6,158.7 345.1,155.0 345.6,151.3 346.1,147.7 346.6,144.3 347.1,141.0 347.6,137.9 348.1,135.0 348.6,132.3 349.1,129.9 349.6,127.8 350.1,126.1 350.6,124.8 351.1,124.2 351.6,124.3 352.1,124.7 352.6,125.3 353.1,126.1 353.6,127.2 354.1,128.5 354.6,130.0 355.1,131.6 355.6,133.5 356.1,135.5 356.6,137.6 357.1,139.8 357.6,142.2 358.1,144.6 358.6,147.1 359.1,149.6 359.6,152.1 360.1,154.7 360.6,157.2 361.1,159.7 361.6,162.2 362.1,164.6 362.6,166.9 363.1,169.2 363.6,171.4 364.1,173.4 364.6,175.4 365.1,177.3 365.6,179.1 366.1,180.7 366.6,182.3 367.1,183.7 367.6,185.0 368.1,186.3 368.6,187.4 369.1,188.4 369.6,189.4 370.1,190.2 370.6,191.0 371.1,191.7 371.6,192.3 372.1,192.8 372.6,193.3 373.1,193.8 373.6,194.1 374.1,194.5 374.6,194.8 375.1,195.0 375.6,195.3 376.1,195.4 376.6,195.6 377.1,195.8 377.6,195.9 378.1,196.0 378.6,196.1 379.1,196.1 379.6,196.2 380.1,196.3" fill="none" stroke="#7cc46a" stroke-width="1.0" stroke-opacity="1.0" stroke-linejoin="round"/>
<polyline points="339.6,196.4 340.1,194.9 340.6,192.6 341.1,189.7 341.6,186.5 342.1,183.1 342.6,179.4 343.1,175.6 343.6,171.6 344.1,167.6 344.6,163.6 345.1,159.6 345.6,155.6 346.1,151.8 346.6,148.0 347.1,144.3 347.6,140.8 348.1,137.5 348.6,134.5 349.1,131.6 349.6,129.1 350.1,127.0 350.6,125.2 351.1,123.9 351.6,123.5 352.1,123.6 352.6,124.0 353.1,124.7 353.6,125.6 354.1,126.6 354.6,128.0 355.1,129.5 355.6,131.1 356.1,133.0 356.6,135.0 357.1,137.1 357.6,139.4 358.1,141.7 358.6,144.1 359.1,146.6 359.6,149.1 360.1,151.7 360.6,154.2 361.1,156.8 361.6,159.3 362.1,161.7 362.6,164.1 363.1,166.5 363.6,168.7 364.1,170.9 364.6,173.0 365.1,175.0 365.6,176.9 366.1,178.6 366.6,180.3 367.1,181.9 367.6,183.3 368.1,184.7 368.6,185.9 369.1,187.1 369.6,188.1 370.1,189.1 370.6,189.9 371.1,190.7 371.6,191.4 372.1,192.1 372.6,192.6 373.1,193.1 373.6,193.6 374.1,194.0 374.6,194.3 375.1,194.7 375.6,194.9 376.1,195.2 376.6,195.4 377.1,195.5 377.6,195.7 378.1,195.8 378.6,195.9 379.1,196.0 379.6,196.1 380.1,196.2 380.6,196.2 381.1,196.3" fill="none" stroke="#3fae3f" stroke-width="1.5" stroke-opacity="1.0" stroke-linejoin="round"/>
</g>
<line x1="328.6" y1="117.5" x2="328.6" y2="196.5" stroke="#8a8a8a" stroke-width="0.9"/>
<line x1="328.6" y1="196.5" x2="408.6" y2="196.5" stroke="#7a7a7a" stroke-width="0.9"/>
<line x1="326.0" y1="196.50" x2="328.6" y2="196.50" stroke="#555" stroke-width="0.8"/>
<text x="322.6" y="198.90" font-size="5.4" text-anchor="end" fill="#333">0</text>
<line x1="327.1" y1="188.97" x2="328.6" y2="188.97" stroke="#555" stroke-width="0.8"/>
<line x1="326.0" y1="181.44" x2="328.6" y2="181.44" stroke="#555" stroke-width="0.8"/>
<text x="322.6" y="183.84" font-size="5.4" text-anchor="end" fill="#333">20</text>
<line x1="327.1" y1="173.91" x2="328.6" y2="173.91" stroke="#555" stroke-width="0.8"/>
<line x1="326.0" y1="166.38" x2="328.6" y2="166.38" stroke="#555" stroke-width="0.8"/>
<text x="322.6" y="168.78" font-size="5.4" text-anchor="end" fill="#333">40</text>
<line x1="327.1" y1="158.85" x2="328.6" y2="158.85" stroke="#555" stroke-width="0.8"/>
<line x1="326.0" y1="151.32" x2="328.6" y2="151.32" stroke="#555" stroke-width="0.8"/>
<text x="322.6" y="153.72" font-size="5.4" text-anchor="end" fill="#333">60</text>
<line x1="327.1" y1="143.79" x2="328.6" y2="143.79" stroke="#555" stroke-width="0.8"/>
<line x1="326.0" y1="136.26" x2="328.6" y2="136.26" stroke="#555" stroke-width="0.8"/>
<text x="322.6" y="138.66" font-size="5.4" text-anchor="end" fill="#333">80</text>
<line x1="327.1" y1="128.73" x2="328.6" y2="128.73" stroke="#555" stroke-width="0.8"/>
<line x1="326.0" y1="121.20" x2="328.6" y2="121.20" stroke="#555" stroke-width="0.8"/>
<text x="322.6" y="123.60" font-size="5.4" text-anchor="end" fill="#333">100</text>
<line x1="336.40000000000003" y1="196.5" x2="336.40000000000003" y2="198.1" stroke="#444" stroke-width="0.8"/>
<line x1="347.6" y1="196.5" x2="347.6" y2="198.1" stroke="#444" stroke-width="0.8"/>
<line x1="361.0" y1="196.5" x2="361.0" y2="198.1" stroke="#444" stroke-width="0.8"/>
<line x1="382.3" y1="196.5" x2="382.3" y2="198.1" stroke="#444" stroke-width="0.8"/>
<line x1="400.5" y1="196.5" x2="400.5" y2="198.1" stroke="#444" stroke-width="0.8"/>
<rect x="345.1" y="195.9" width="4.2" height="1.6" fill="#111"/>
<text x="331.2" y="206.4" font-size="5.0" fill="#444">–10</text>
<text x="339.8" y="203.8" font-size="3.0" fill="#444">3</text>
<text x="348.2" y="206.4" font-size="5.0" text-anchor="middle" fill="#444">0</text>
<text x="361.2" y="206.4" font-size="5.0" text-anchor="middle" fill="#444">10</text>
<text x="364.1" y="203.8" font-size="3.0" fill="#444">3</text>
<text x="382.9" y="206.4" font-size="5.0" text-anchor="middle" fill="#444">10</text>
<text x="385.8" y="203.8" font-size="3.0" fill="#444">4</text>
<text x="401.6" y="206.4" font-size="5.0" text-anchor="middle" fill="#444">10</text>
<text x="404.5" y="203.8" font-size="3.0" fill="#444">5</text>
<text x="309.40000000000003" y="158.2" font-size="7.9" text-anchor="middle" fill="#2a2a2a" transform="rotate(-90 309.40000000000003 158.2) translate(0 2.7)" textLength="63" lengthAdjust="spacingAndGlyphs">Normalized to mode</text>
<text x="341.5" y="126.8" font-size="9.0" textLength="62.7" lengthAdjust="spacingAndGlyphs" class="s" fill="#111">Avg MFI = 456</text>
<text x="379.0" y="139.0" font-size="8.2" textLength="25.6" lengthAdjust="spacingAndGlyphs" class="s" fill="#111">gp91 +</text>
<line x1="363.0" y1="145.2" x2="408.6" y2="145.2" stroke="#333" stroke-width="0.9"/>
<line x1="363.0" y1="143.89999999999998" x2="363.0" y2="146.5" stroke="#333" stroke-width="0.8"/>
<path d="M439.6,118.0 H519.6 V196.5" fill="none" stroke="#c9c9c9" stroke-width="1.1"/>
<g clip-path="url(#cp13)">
<polyline points="449.4,196.5 449.8,196.2 450.1,196.2 450.5,196.5 450.8,195.7 451.2,196.5 451.5,195.9 451.9,195.7 452.2,196.5 452.6,195.7 452.9,195.4 453.2,195.7 453.6,195.4 454.0,195.7 454.3,195.4 454.7,195.7 455.0,195.1 455.4,193.7 455.7,195.1 456.1,194.3 456.4,195.1 456.8,192.8 457.1,194.0 457.5,194.5 457.8,192.8 458.2,192.6 458.5,189.2 458.9,192.0 459.2,189.2 459.6,187.8 459.9,190.9 460.2,188.4 460.6,184.4 461.0,185.5 461.3,184.7 461.7,182.2 462.0,181.0 462.4,177.7 462.7,181.0 463.1,179.1 463.4,175.7 463.8,174.0 464.1,170.4 464.5,170.1 464.8,167.0 465.2,166.4 465.5,166.4 465.9,166.2 466.2,158.6 466.6,161.4 466.9,155.8 467.2,160.3 467.6,147.9 468.0,146.5 468.3,151.8 468.7,140.6 469.0,146.2 469.4,142.8 469.7,138.9 470.1,141.1 470.4,140.3 470.8,137.2 471.1,135.5 471.5,135.0 471.8,133.0 472.2,127.7 472.5,130.8 472.9,124.3 473.2,131.0 473.6,123.4 473.9,126.0 474.2,124.0 474.6,127.1 475.0,121.8 475.3,121.2 475.7,127.9 476.0,129.9 476.4,135.8 476.7,138.6 477.1,139.2 477.4,149.3 477.8,144.0 478.1,146.5 478.5,153.2 478.8,154.9 479.2,161.1 479.5,160.0 479.9,167.0 480.2,169.0 480.6,174.3 480.9,173.7 481.2,179.6 481.6,179.6 482.0,185.0 482.3,188.1 482.7,186.1 483.0,186.9 483.4,190.3 483.7,189.5 484.1,194.0 484.4,190.3 484.8,194.0 485.1,194.5 485.5,193.4 485.8,194.8 486.2,195.1 486.5,194.5 486.9,195.4 487.2,195.9 487.6,196.2 487.9,195.7 488.2,196.2 488.6,196.2 489.0,196.5 489.3,196.5 489.7,196.5 490.0,195.9 490.4,196.5" fill="none" stroke="#23a8cc" stroke-width="1.1" stroke-opacity="1.0" stroke-linejoin="round"/>
<polyline points="447.7,196.5 448.0,196.2 448.4,196.5 448.7,196.5 449.1,196.5 449.4,196.5 449.8,196.5 450.1,196.5 450.5,196.5 450.8,196.0 451.2,196.0 451.5,196.2 451.9,196.5 452.2,196.5 452.6,196.0 452.9,196.5 453.2,196.2 453.6,196.2 454.0,195.2 454.3,195.7 454.7,196.2 455.0,196.0 455.4,195.7 455.7,196.0 456.1,196.0 456.4,195.7 456.8,195.5 457.1,194.4 457.5,193.4 457.8,192.9 458.2,194.2 458.5,193.7 458.9,191.6 459.2,193.4 459.6,190.8 459.9,190.3 460.2,190.3 460.6,189.0 461.0,190.1 461.3,187.8 461.7,186.0 462.0,186.7 462.4,188.8 462.7,186.2 463.1,179.3 463.4,183.9 463.8,181.9 464.1,179.5 464.5,173.1 464.8,172.9 465.2,172.1 465.5,173.1 465.9,165.4 466.2,168.5 466.6,162.8 466.9,164.4 467.2,166.7 467.6,156.2 468.0,165.4 468.3,153.6 468.7,159.5 469.0,158.2 469.4,146.1 469.7,147.7 470.1,149.5 470.4,144.1 470.8,146.4 471.1,147.7 471.5,143.8 471.8,140.5 472.2,133.8 472.5,132.8 472.9,128.1 473.2,135.1 473.6,131.5 473.9,137.9 474.2,135.1 474.6,131.7 475.0,134.3 475.3,122.7 475.7,121.2 476.0,132.0 476.4,129.7 476.7,134.6 477.1,143.3 477.4,146.4 477.8,140.2 478.1,146.9 478.5,144.8 478.8,153.3 479.2,156.2 479.5,160.5 479.9,162.6 480.2,165.1 480.6,167.7 480.9,174.4 481.2,172.3 481.6,178.3 482.0,177.0 482.3,184.2 482.7,185.4 483.0,184.2 483.4,188.3 483.7,189.3 484.1,189.8 484.4,189.0 484.8,191.9 485.1,193.7 485.5,195.0 485.8,195.0 486.2,194.7 486.5,195.5 486.9,195.5 487.2,195.2 487.6,195.7 487.9,195.5 488.2,196.2 488.6,196.2 489.0,196.2 489.3,196.2 489.7,196.5 490.0,196.5 490.4,196.2 490.7,196.5 491.1,196.5 491.4,196.5 491.8,196.5 492.1,196.5 492.5,196.2 492.8,196.5" fill="none" stroke="#f39a2a" stroke-width="1.0" stroke-opacity="1.0" stroke-linejoin="round"/>
<polyline points="451.5,196.5 451.9,196.2 452.2,196.5 452.6,196.2 452.9,196.5 453.2,196.5 453.6,196.2 454.0,195.7 454.3,196.0 454.7,196.0 455.0,196.2 455.4,196.0 455.7,195.7 456.1,196.2 456.4,195.7 456.8,196.0 457.1,195.4 457.5,194.3 457.8,194.3 458.2,196.0 458.5,192.7 458.9,194.6 459.2,191.9 459.6,193.5 459.9,193.5 460.2,191.1 460.6,191.9 461.0,192.4 461.3,191.9 461.7,188.4 462.0,186.2 462.4,187.3 462.7,190.8 463.1,188.6 463.4,182.7 463.8,181.1 464.1,181.9 464.5,180.2 464.8,177.5 465.2,178.9 465.5,179.4 465.9,174.0 466.2,171.9 466.6,172.9 466.9,169.7 467.2,170.0 467.6,165.6 468.0,168.3 468.3,163.5 468.7,157.5 469.0,153.7 469.4,157.8 469.7,149.1 470.1,150.7 470.4,150.5 470.8,144.2 471.1,144.8 471.5,145.3 471.8,140.7 472.2,137.2 472.5,130.7 472.9,130.4 473.2,134.2 473.6,134.7 473.9,133.4 474.2,127.2 474.6,127.4 475.0,121.2 475.3,132.3 475.7,132.0 476.0,123.1 476.4,131.2 476.7,133.4 477.1,131.5 477.4,129.9 477.8,130.7 478.1,141.0 478.5,141.2 478.8,139.9 479.2,155.6 479.5,150.5 479.9,158.0 480.2,156.1 480.6,162.6 480.9,166.2 481.2,167.8 481.6,169.1 482.0,176.7 482.3,178.6 482.7,178.6 483.0,185.7 483.4,183.2 483.7,183.8 484.1,188.6 484.4,190.0 484.8,190.5 485.1,189.5 485.5,193.0 485.8,190.5 486.2,191.6 486.5,191.6 486.9,192.2 487.2,192.7 487.6,192.7 487.9,192.7 488.2,193.0 488.6,193.0 489.0,194.1 489.3,193.5 489.7,194.1 490.0,194.6 490.4,194.9 490.7,194.1 491.1,194.3 491.4,195.1 491.8,196.0 492.1,196.0 492.5,194.9 492.8,196.5 493.2,196.5 493.5,196.5 493.9,196.2 494.2,196.2 494.6,196.5 494.9,196.2 495.2,196.2 495.6,196.5" fill="none" stroke="#7cc46a" stroke-width="1.0" stroke-opacity="1.0" stroke-linejoin="round"/>
<polyline points="451.2,196.3 451.5,196.0 451.9,196.5 452.2,196.5 452.6,196.5 452.9,196.3 453.2,196.3 453.6,196.3 454.0,195.3 454.3,195.8 454.7,194.8 455.0,195.5 455.4,195.0 455.7,195.0 456.1,195.8 456.4,194.6 456.8,194.3 457.1,194.1 457.5,193.6 457.8,192.8 458.2,193.3 458.5,193.8 458.9,191.4 459.2,192.8 459.6,192.6 459.9,188.7 460.2,188.9 460.6,188.5 461.0,188.9 461.3,187.5 461.7,181.9 462.0,180.9 462.4,182.9 462.7,181.9 463.1,180.4 463.4,176.5 463.8,180.7 464.1,178.7 464.5,169.2 464.8,169.2 465.2,170.9 465.5,166.3 465.9,165.8 466.2,160.2 466.6,162.4 466.9,163.6 467.2,157.5 467.6,155.3 468.0,145.8 468.3,150.0 468.7,145.1 469.0,149.5 469.4,148.7 469.7,138.5 470.1,138.3 470.4,136.8 470.8,136.1 471.1,138.0 471.5,130.5 471.8,133.9 472.2,126.1 472.5,125.8 472.9,132.9 473.2,122.2 473.6,129.2 473.9,131.4 474.2,125.8 474.6,121.2 475.0,123.9 475.3,122.4 475.7,130.7 476.0,133.6 476.4,125.3 476.7,138.7 477.1,132.9 477.4,138.3 477.8,141.7 478.1,139.7 478.5,151.7 478.8,149.0 479.2,154.3 479.5,162.1 479.9,160.2 480.2,162.6 480.6,169.0 480.9,173.1 481.2,176.8 481.6,177.0 482.0,182.6 482.3,183.1 482.7,187.2 483.0,185.0 483.4,188.9 483.7,190.7 484.1,191.9 484.4,192.6 484.8,195.0 485.1,193.6 485.5,194.3 485.8,196.3 486.2,195.0 486.5,196.0 486.9,195.5 487.2,196.0 487.6,196.0 487.9,196.3" fill="none" stroke="#3fae3f" stroke-width="1.4" stroke-opacity="1.0" stroke-linejoin="round"/>
</g>
<line x1="439.6" y1="117.5" x2="439.6" y2="196.5" stroke="#8a8a8a" stroke-width="0.9"/>
<line x1="439.6" y1="196.5" x2="519.6" y2="196.5" stroke="#7a7a7a" stroke-width="0.9"/>
<line x1="437.0" y1="196.50" x2="439.6" y2="196.50" stroke="#555" stroke-width="0.8"/>
<text x="433.6" y="198.90" font-size="5.4" text-anchor="end" fill="#333">0</text>
<line x1="438.1" y1="188.97" x2="439.6" y2="188.97" stroke="#555" stroke-width="0.8"/>
<line x1="437.0" y1="181.44" x2="439.6" y2="181.44" stroke="#555" stroke-width="0.8"/>
<text x="433.6" y="183.84" font-size="5.4" text-anchor="end" fill="#333">20</text>
<line x1="438.1" y1="173.91" x2="439.6" y2="173.91" stroke="#555" stroke-width="0.8"/>
<line x1="437.0" y1="166.38" x2="439.6" y2="166.38" stroke="#555" stroke-width="0.8"/>
<text x="433.6" y="168.78" font-size="5.4" text-anchor="end" fill="#333">40</text>
<line x1="438.1" y1="158.85" x2="439.6" y2="158.85" stroke="#555" stroke-width="0.8"/>
<line x1="437.0" y1="151.32" x2="439.6" y2="151.32" stroke="#555" stroke-width="0.8"/>
<text x="433.6" y="153.72" font-size="5.4" text-anchor="end" fill="#333">60</text>
<line x1="438.1" y1="143.79" x2="439.6" y2="143.79" stroke="#555" stroke-width="0.8"/>
<line x1="437.0" y1="136.26" x2="439.6" y2="136.26" stroke="#555" stroke-width="0.8"/>
<text x="433.6" y="138.66" font-size="5.4" text-anchor="end" fill="#333">80</text>
<line x1="438.1" y1="128.73" x2="439.6" y2="128.73" stroke="#555" stroke-width="0.8"/>
<line x1="437.0" y1="121.20" x2="439.6" y2="121.20" stroke="#555" stroke-width="0.8"/>
<text x="433.6" y="123.60" font-size="5.4" text-anchor="end" fill="#333">100</text>
<line x1="447.40000000000003" y1="196.5" x2="447.40000000000003" y2="198.1" stroke="#444" stroke-width="0.8"/>
<line x1="458.6" y1="196.5" x2="458.6" y2="198.1" stroke="#444" stroke-width="0.8"/>
<line x1="472.0" y1="196.5" x2="472.0" y2="198.1" stroke="#444" stroke-width="0.8"/>
<line x1="493.3" y1="196.5" x2="493.3" y2="198.1" stroke="#444" stroke-width="0.8"/>
<line x1="511.5" y1="196.5" x2="511.5" y2="198.1" stroke="#444" stroke-width="0.8"/>
<rect x="456.1" y="195.9" width="4.2" height="1.6" fill="#111"/>
<text x="442.2" y="206.4" font-size="5.0" fill="#444">–10</text>
<text x="450.8" y="203.8" font-size="3.0" fill="#444">3</text>
<text x="459.2" y="206.4" font-size="5.0" text-anchor="middle" fill="#444">0</text>
<text x="472.2" y="206.4" font-size="5.0" text-anchor="middle" fill="#444">10</text>
<text x="475.1" y="203.8" font-size="3.0" fill="#444">3</text>
<text x="493.9" y="206.4" font-size="5.0" text-anchor="middle" fill="#444">10</text>
<text x="496.8" y="203.8" font-size="3.0" fill="#444">4</text>
<text x="512.6" y="206.4" font-size="5.0" text-anchor="middle" fill="#444">10</text>
<text x="515.5" y="203.8" font-size="3.0" fill="#444">5</text>
<text x="420.40000000000003" y="158.2" font-size="7.9" text-anchor="middle" fill="#2a2a2a" transform="rotate(-90 420.40000000000003 158.2) translate(0 2.7)" textLength="63" lengthAdjust="spacingAndGlyphs">Normalized to mode</text>
<text x="445.8" y="128.0" font-size="9.0" textLength="68.0" lengthAdjust="spacingAndGlyphs" class="s" fill="#111">Avg MFI = 1319</text>
<text x="491.5" y="138.3" font-size="8.2" textLength="24.7" lengthAdjust="spacingAndGlyphs" class="s" fill="#111">gp91 +</text>
<line x1="483.8" y1="144.2" x2="519.6" y2="144.2" stroke="#333" stroke-width="0.9"/>
<line x1="483.8" y1="142.89999999999998" x2="483.8" y2="145.5" stroke="#333" stroke-width="0.8"/>
<path d="M106.0,214.1 H186.0 V293.0" fill="none" stroke="#c9c9c9" stroke-width="1.1"/>
<g clip-path="url(#cp20)">
<polyline points="111.2,293.0 111.6,292.2 112.0,292.2 112.3,293.0 112.7,291.4 113.0,289.8 113.3,290.6 113.7,292.2 114.0,289.0 114.4,290.6 114.8,289.0 115.1,286.6 115.5,283.4 115.8,281.8 116.2,283.4 116.5,280.3 116.8,274.7 117.2,273.1 117.5,265.1 117.9,261.9 118.2,257.9 118.6,257.9 119.0,250.0 119.3,255.5 119.7,242.8 120.0,252.4 120.3,234.8 120.7,235.6 121.0,234.8 121.4,231.6 121.8,217.3 122.1,223.7 122.5,230.8 122.8,226.9 123.2,225.3 123.5,224.5 123.8,226.9 124.2,226.9 124.5,220.5 124.9,225.3 125.2,226.9 125.6,227.7 126.0,235.6 126.3,236.4 126.7,240.4 127.0,238.8 127.3,246.0 127.7,237.2 128.1,238.0 128.4,258.7 128.8,251.6 129.1,245.2 129.4,250.8 129.8,264.3 130.2,264.3 130.5,264.3 130.8,269.1 131.2,272.3 131.6,276.3 131.9,276.3 132.2,271.5 132.6,283.4 132.9,276.3 133.3,282.6 133.7,280.3 134.0,281.0 134.3,285.8 134.7,284.2 135.1,289.8 135.4,285.0 135.8,288.2 136.1,292.2 136.4,287.4 136.8,289.0 137.2,290.6 137.5,292.2 137.8,291.4 138.2,290.6 138.6,292.2 138.9,292.2 139.2,292.2 139.6,292.2 139.9,291.4 140.3,292.2 140.7,293.0 141.0,292.2 141.3,293.0 141.7,293.0 142.1,292.2 142.4,293.0 142.8,293.0 143.1,293.0 143.4,292.2 143.8,293.0" fill="none" stroke="#f39a2a" stroke-width="1.0" stroke-opacity="1.0" stroke-linejoin="round"/>
<polyline points="111.6,293.0 112.0,292.4 112.3,292.4 112.7,292.4 113.0,292.4 113.3,292.4 113.7,292.4 114.0,290.7 114.4,292.4 114.8,289.5 115.1,291.8 115.5,287.8 115.8,287.2 116.2,285.5 116.5,284.9 116.8,281.4 117.2,278.0 117.5,282.0 117.9,275.1 118.2,275.7 118.6,272.2 119.0,265.3 119.3,260.1 119.7,259.5 120.0,250.2 120.3,239.3 120.7,244.5 121.0,249.7 121.4,240.4 121.8,225.4 122.1,228.3 122.5,223.7 122.8,226.0 123.2,217.3 123.5,227.1 123.8,223.7 124.2,232.9 124.5,235.2 124.9,243.3 125.2,242.1 125.6,232.3 126.0,242.7 126.3,242.1 126.7,244.5 127.0,252.5 127.3,253.7 127.7,254.9 128.1,252.5 128.4,262.4 128.8,260.1 129.1,266.4 129.4,268.7 129.8,269.3 130.2,276.2 130.5,276.2 130.8,273.4 131.2,283.8 131.6,279.7 131.9,284.9 132.2,286.1 132.6,286.6 132.9,286.1 133.3,288.4 133.7,290.7 134.0,290.1 134.3,291.8 134.7,291.3 135.1,290.1 135.4,291.3 135.8,292.4 136.1,293.0 136.4,292.4 136.8,292.4 137.2,292.4 137.5,292.4 137.8,293.0 138.2,292.4 138.6,293.0 138.9,293.0 139.2,293.0 139.6,293.0 139.9,293.0 140.3,292.4 140.7,293.0" fill="none" stroke="#23a8cc" stroke-width="1.0" stroke-opacity="1.0" stroke-linejoin="round"/>
<polyline points="110.5,293.0 110.9,291.8 111.2,293.0 111.6,292.4 112.0,293.0 112.3,293.0 112.7,291.8 113.0,291.8 113.3,292.4 113.7,291.3 114.0,289.5 114.4,290.7 114.8,286.0 115.1,287.8 115.5,286.6 115.8,284.8 116.2,284.3 116.5,280.8 116.8,279.6 117.2,284.8 117.5,277.9 117.9,276.7 118.2,268.0 118.6,261.0 119.0,261.6 119.3,259.8 119.7,251.7 120.0,255.7 120.3,250.5 120.7,245.8 121.0,236.5 121.4,217.3 121.8,236.5 122.1,231.9 122.5,233.0 122.8,236.5 123.2,246.4 123.5,239.4 123.8,240.0 124.2,234.8 124.5,249.3 124.9,242.9 125.2,230.7 125.6,249.3 126.0,250.5 126.3,248.7 126.7,246.4 127.0,252.2 127.3,254.6 127.7,263.3 128.1,261.6 128.4,255.7 128.8,266.8 129.1,267.4 129.4,268.0 129.8,269.7 130.2,268.0 130.5,274.4 130.8,277.3 131.2,276.7 131.6,285.4 131.9,285.4 132.2,288.3 132.6,285.4 132.9,287.2 133.3,285.4 133.7,285.4 134.0,291.3 134.3,289.5 134.7,292.4 135.1,290.7 135.4,291.8 135.8,290.7 136.1,293.0 136.4,292.4 136.8,291.3 137.2,293.0 137.5,291.8 137.8,291.8 138.2,293.0 138.6,292.4 138.9,293.0" fill="none" stroke="#1f7a3a" stroke-width="1.2" stroke-opacity="1.0" stroke-linejoin="round"/>
<polyline points="109.2,293.0 109.5,292.3 109.8,293.0 110.2,292.3 110.5,293.0 110.9,292.3 111.2,292.3 111.6,293.0 112.0,292.3 112.3,292.3 112.7,288.9 113.0,292.3 113.3,290.9 113.7,290.2 114.0,290.9 114.4,287.5 114.8,286.8 115.1,289.6 115.5,286.8 115.8,280.6 116.2,281.3 116.5,277.9 116.8,279.2 117.2,280.6 117.5,268.9 117.9,269.6 118.2,261.3 118.6,272.4 119.0,259.3 119.3,250.3 119.7,244.8 120.0,233.1 120.3,249.0 120.7,230.4 121.0,237.3 121.4,236.6 121.8,224.2 122.1,226.9 122.5,219.4 122.8,230.4 123.2,220.1 123.5,224.9 123.8,217.3 124.2,220.1 124.5,225.6 124.9,229.0 125.2,240.0 125.6,230.4 126.0,230.4 126.3,245.5 126.7,240.0 127.0,237.3 127.3,248.3 127.7,253.8 128.1,257.2 128.4,240.7 128.8,258.6 129.1,257.9 129.4,261.3 129.8,260.0 130.2,275.1 130.5,271.7 130.8,269.6 131.2,279.9 131.6,276.5 131.9,274.4 132.2,282.7 132.6,286.8 132.9,285.4 133.3,287.5 133.7,285.4 134.0,287.5 134.3,285.4 134.7,289.6 135.1,290.9 135.4,293.0 135.8,290.2 136.1,290.2 136.4,292.3 136.8,289.6 137.2,292.3 137.5,290.9 137.8,292.3 138.2,291.6 138.6,293.0 138.9,293.0 139.2,292.3 139.6,293.0 139.9,292.3 140.3,293.0 140.7,293.0 141.0,293.0 141.3,292.3 141.7,293.0 142.1,292.3 142.4,293.0" fill="none" stroke="#3fae3f" stroke-width="1.3" stroke-opacity="1.0" stroke-linejoin="round"/>
</g>
<line x1="106.0" y1="213.6" x2="106.0" y2="293.0" stroke="#8a8a8a" stroke-width="0.9"/>
<line x1="106.0" y1="293.0" x2="186.0" y2="293.0" stroke="#7a7a7a" stroke-width="0.9"/>
<line x1="103.4" y1="293.00" x2="106.0" y2="293.00" stroke="#555" stroke-width="0.8"/>
<text x="100.0" y="295.40" font-size="5.4" text-anchor="end" fill="#333">0</text>
<line x1="104.5" y1="285.43" x2="106.0" y2="285.43" stroke="#555" stroke-width="0.8"/>
<line x1="103.4" y1="277.86" x2="106.0" y2="277.86" stroke="#555" stroke-width="0.8"/>
<text x="100.0" y="280.26" font-size="5.4" text-anchor="end" fill="#333">20</text>
<line x1="104.5" y1="270.29" x2="106.0" y2="270.29" stroke="#555" stroke-width="0.8"/>
<line x1="103.4" y1="262.72" x2="106.0" y2="262.72" stroke="#555" stroke-width="0.8"/>
<text x="100.0" y="265.12" font-size="5.4" text-anchor="end" fill="#333">40</text>
<line x1="104.5" y1="255.15" x2="106.0" y2="255.15" stroke="#555" stroke-width="0.8"/>
<line x1="103.4" y1="247.58" x2="106.0" y2="247.58" stroke="#555" stroke-width="0.8"/>
<text x="100.0" y="249.98" font-size="5.4" text-anchor="end" fill="#333">60</text>
<line x1="104.5" y1="240.01" x2="106.0" y2="240.01" stroke="#555" stroke-width="0.8"/>
<line x1="103.4" y1="232.44" x2="106.0" y2="232.44" stroke="#555" stroke-width="0.8"/>
<text x="100.0" y="234.84" font-size="5.4" text-anchor="end" fill="#333">80</text>
<line x1="104.5" y1="224.87" x2="106.0" y2="224.87" stroke="#555" stroke-width="0.8"/>
<line x1="103.4" y1="217.30" x2="106.0" y2="217.30" stroke="#555" stroke-width="0.8"/>
<text x="100.0" y="219.70" font-size="5.4" text-anchor="end" fill="#333">100</text>
<line x1="113.8" y1="293.0" x2="113.8" y2="294.6" stroke="#444" stroke-width="0.8"/>
<line x1="125.0" y1="293.0" x2="125.0" y2="294.6" stroke="#444" stroke-width="0.8"/>
<line x1="138.4" y1="293.0" x2="138.4" y2="294.6" stroke="#444" stroke-width="0.8"/>
<line x1="159.7" y1="293.0" x2="159.7" y2="294.6" stroke="#444" stroke-width="0.8"/>
<line x1="177.9" y1="293.0" x2="177.9" y2="294.6" stroke="#444" stroke-width="0.8"/>
<rect x="122.5" y="292.4" width="4.2" height="1.6" fill="#111"/>
<text x="108.6" y="302.9" font-size="5.0" fill="#444">–10</text>
<text x="117.2" y="300.3" font-size="3.0" fill="#444">3</text>
<text x="125.6" y="302.9" font-size="5.0" text-anchor="middle" fill="#444">0</text>
<text x="138.6" y="302.9" font-size="5.0" text-anchor="middle" fill="#444">10</text>
<text x="141.5" y="300.3" font-size="3.0" fill="#444">3</text>
<text x="160.3" y="302.9" font-size="5.0" text-anchor="middle" fill="#444">10</text>
<text x="163.2" y="300.3" font-size="3.0" fill="#444">4</text>
<text x="179.0" y="302.9" font-size="5.0" text-anchor="middle" fill="#444">10</text>
<text x="181.9" y="300.3" font-size="3.0" fill="#444">5</text>
<text x="86.8" y="254.3" font-size="7.9" text-anchor="middle" fill="#2a2a2a" transform="rotate(-90 86.8 254.3) translate(0 2.7)" textLength="63" lengthAdjust="spacingAndGlyphs">Normalized to mode</text>
<text x="129.2" y="223.5" font-size="9.0" textLength="52.3" lengthAdjust="spacingAndGlyphs" class="s" fill="#111">Avg MFI = 4</text>
<text x="157.7" y="236.9" font-size="8.2" textLength="24.6" lengthAdjust="spacingAndGlyphs" class="s" fill="#111">gp91 +</text>
<line x1="137.4" y1="242.8" x2="186.0" y2="242.8" stroke="#333" stroke-width="0.9"/>
<line x1="137.4" y1="241.5" x2="137.4" y2="244.10000000000002" stroke="#333" stroke-width="0.8"/>
<path d="M217.6,214.1 H297.6 V293.0" fill="none" stroke="#c9c9c9" stroke-width="1.1"/>
<g clip-path="url(#cp21)">
<polyline points="221.8,293.0 222.2,292.6 222.5,293.0 222.8,293.0 223.2,293.0 223.5,293.0 223.9,293.0 224.2,293.0 224.6,293.0 224.9,293.0 225.3,293.0 225.7,293.0 226.0,293.0 226.3,292.6 226.7,292.6 227.0,293.0 227.4,292.3 227.8,291.9 228.1,292.6 228.4,292.6 228.8,292.3 229.2,292.3 229.5,291.6 229.8,291.9 230.2,289.8 230.5,291.2 230.9,289.1 231.2,289.1 231.6,288.1 231.9,287.0 232.3,285.6 232.7,283.5 233.0,283.5 233.3,281.1 233.7,282.8 234.0,279.3 234.4,278.6 234.8,280.0 235.1,272.0 235.4,277.9 235.8,272.3 236.1,273.7 236.5,266.7 236.8,262.5 237.2,258.7 237.5,260.8 237.9,257.3 238.2,252.3 238.6,249.5 238.9,245.7 239.3,244.6 239.6,238.7 240.0,237.3 240.3,232.0 240.7,235.5 241.0,227.1 241.4,229.9 241.8,228.2 242.1,228.2 242.4,221.9 242.8,218.0 243.1,217.3 243.5,227.8 243.8,218.7 244.2,225.0 244.5,223.6 244.9,229.9 245.2,228.5 245.6,228.9 245.9,238.3 246.3,242.2 246.6,242.9 247.0,239.0 247.3,249.9 247.7,250.6 248.0,253.4 248.4,251.6 248.8,261.5 249.1,265.0 249.4,265.7 249.8,266.7 250.1,276.9 250.5,273.7 250.8,279.0 251.2,283.9 251.5,282.1 251.9,281.8 252.2,280.4 252.6,285.3 252.9,286.7 253.3,287.7 253.6,288.1 254.0,288.1 254.3,291.9 254.7,288.8 255.0,289.5 255.4,291.6 255.8,291.2 256.1,290.9 256.4,293.0 256.8,292.3 257.1,292.3 257.5,293.0 257.9,292.6 258.2,293.0 258.6,293.0 258.9,293.0 259.2,293.0 259.6,293.0 259.9,293.0 260.3,293.0 260.6,292.6 261.0,293.0" fill="none" stroke="#f39a2a" stroke-width="1.2" stroke-opacity="1.0" stroke-linejoin="round"/>
<polyline points="227.4,293.0 227.8,292.6 228.1,293.0 228.4,293.0 228.8,293.0 229.2,292.6 229.5,291.9 229.8,292.6 230.2,291.9 230.5,292.3 230.9,291.9 231.2,291.6 231.6,292.6 231.9,289.7 232.3,290.1 232.7,288.7 233.0,286.5 233.3,287.9 233.7,287.9 234.0,282.9 234.4,285.8 234.8,285.8 235.1,284.3 235.4,274.9 235.8,276.7 236.1,276.7 236.5,275.6 236.8,270.5 237.2,267.3 237.5,270.5 237.9,259.7 238.2,263.7 238.6,258.2 238.9,245.9 239.3,247.7 239.6,245.2 240.0,224.9 240.3,234.3 240.7,236.1 241.0,229.6 241.4,231.4 241.8,222.7 242.1,217.3 242.4,220.6 242.8,218.4 243.1,228.5 243.5,222.0 243.8,228.9 244.2,224.2 244.5,222.7 244.9,220.6 245.2,237.9 245.6,225.6 245.9,228.5 246.3,231.4 246.6,234.7 247.0,242.3 247.3,239.0 247.7,240.8 248.0,247.4 248.4,253.9 248.8,252.4 249.1,256.1 249.4,262.9 249.8,266.6 250.1,268.0 250.5,272.7 250.8,278.5 251.2,277.4 251.5,274.9 251.9,281.4 252.2,283.6 252.6,284.3 252.9,285.0 253.3,286.1 253.6,287.9 254.0,289.4 254.3,290.1 254.7,291.2 255.0,292.3 255.4,291.9 255.8,291.6 256.1,292.3 256.4,292.3 256.8,292.6 257.1,291.6 257.5,293.0 257.9,293.0 258.2,292.3 258.6,293.0 258.9,292.6 259.2,293.0 259.6,292.6 259.9,293.0" fill="none" stroke="#3fae3f" stroke-width="1.4" stroke-opacity="1.0" stroke-linejoin="round"/>
<polyline points="227.8,293.0 228.1,292.7 228.4,293.0 228.8,293.0 229.2,293.0 229.5,293.0 229.8,292.7 230.2,292.7 230.5,293.0 230.9,292.4 231.2,291.7 231.6,292.4 231.9,291.4 232.3,291.1 232.7,290.8 233.0,288.9 233.3,287.9 233.7,288.2 234.0,287.6 234.4,288.2 234.8,286.3 235.1,285.7 235.4,284.4 235.8,284.4 236.1,280.9 236.5,279.0 236.8,278.1 237.2,278.7 237.5,272.6 237.9,269.5 238.2,270.1 238.6,266.0 238.9,260.9 239.3,254.8 239.6,246.9 240.0,248.2 240.3,247.2 240.7,249.4 241.0,241.8 241.4,240.5 241.8,230.0 242.1,238.6 242.4,229.7 242.8,234.5 243.1,217.3 243.5,225.3 243.8,217.9 244.2,218.9 244.5,230.3 244.9,221.4 245.2,218.9 245.6,231.6 245.9,233.2 246.3,235.4 246.6,235.1 247.0,230.3 247.3,239.2 247.7,237.3 248.0,246.9 248.4,245.6 248.8,246.9 249.1,252.6 249.4,259.0 249.8,266.0 250.1,262.8 250.5,270.7 250.8,277.7 251.2,272.6 251.5,274.2 251.9,276.1 252.2,284.1 252.6,282.2 252.9,285.0 253.3,287.9 253.6,287.9 254.0,289.2 254.3,290.5 254.7,288.9 255.0,290.8 255.4,289.8 255.8,290.8 256.1,291.7 256.4,292.0 256.8,292.4 257.1,291.4 257.5,292.7 257.9,292.4 258.2,293.0 258.6,293.0 258.9,293.0 259.2,293.0 259.6,293.0 259.9,292.4 260.3,293.0 260.6,292.7 261.0,293.0 261.4,292.7 261.7,293.0 262.1,292.7 262.4,293.0" fill="none" stroke="#1f7a3a" stroke-width="1.1" stroke-opacity="1.0" stroke-linejoin="round"/>
<polyline points="226.7,293.0 227.0,292.7 227.4,293.0 227.8,293.0 228.1,293.0 228.4,293.0 228.8,292.7 229.2,292.4 229.5,292.7 229.8,292.7 230.2,292.4 230.5,292.7 230.9,292.7 231.2,291.7 231.6,291.7 231.9,290.8 232.3,289.5 232.7,290.8 233.0,287.9 233.3,288.2 233.7,286.6 234.0,286.6 234.4,285.6 234.8,285.0 235.1,284.7 235.4,279.2 235.8,277.6 236.1,277.9 236.5,273.8 236.8,273.4 237.2,271.8 237.5,269.3 237.9,263.2 238.2,259.3 238.6,260.9 238.9,254.5 239.3,249.1 239.6,257.7 240.0,247.8 240.3,244.2 240.7,245.8 241.0,241.0 241.4,235.3 241.8,231.4 242.1,234.0 242.4,229.2 242.8,217.6 243.1,220.2 243.5,218.9 243.8,228.5 244.2,221.5 244.5,219.2 244.9,217.3 245.2,217.6 245.6,229.8 245.9,233.7 246.3,224.7 246.6,243.0 247.0,233.3 247.3,247.8 247.7,244.6 248.0,249.1 248.4,255.8 248.8,255.8 249.1,253.5 249.4,261.6 249.8,263.8 250.1,266.4 250.5,272.2 250.8,272.8 251.2,276.3 251.5,277.3 251.9,279.8 252.2,279.2 252.6,283.7 252.9,285.6 253.3,284.3 253.6,287.5 254.0,289.2 254.3,290.8 254.7,289.5 255.0,290.8 255.4,292.0 255.8,292.7 256.1,291.7 256.4,292.4 256.8,292.7 257.1,292.0 257.5,291.7 257.9,293.0 258.2,292.0 258.6,293.0 258.9,292.7 259.2,292.4 259.6,292.4 259.9,293.0 260.3,293.0 260.6,293.0 261.0,293.0 261.4,293.0 261.7,293.0 262.1,292.7 262.4,293.0" fill="none" stroke="#3fae3f" stroke-width="1.2" stroke-opacity="1.0" stroke-linejoin="round"/>
</g>
<line x1="217.6" y1="213.6" x2="217.6" y2="293.0" stroke="#8a8a8a" stroke-width="0.9"/>
<line x1="217.6" y1="293.0" x2="297.6" y2="293.0" stroke="#7a7a7a" stroke-width="0.9"/>
<line x1="215.0" y1="293.00" x2="217.6" y2="293.00" stroke="#555" stroke-width="0.8"/>
<text x="211.6" y="295.40" font-size="5.4" text-anchor="end" fill="#333">0</text>
<line x1="216.1" y1="285.43" x2="217.6" y2="285.43" stroke="#555" stroke-width="0.8"/>
<line x1="215.0" y1="277.86" x2="217.6" y2="277.86" stroke="#555" stroke-width="0.8"/>
<text x="211.6" y="280.26" font-size="5.4" text-anchor="end" fill="#333">20</text>
<line x1="216.1" y1="270.29" x2="217.6" y2="270.29" stroke="#555" stroke-width="0.8"/>
<line x1="215.0" y1="262.72" x2="217.6" y2="262.72" stroke="#555" stroke-width="0.8"/>
<text x="211.6" y="265.12" font-size="5.4" text-anchor="end" fill="#333">40</text>
<line x1="216.1" y1="255.15" x2="217.6" y2="255.15" stroke="#555" stroke-width="0.8"/>
<line x1="215.0" y1="247.58" x2="217.6" y2="247.58" stroke="#555" stroke-width="0.8"/>
<text x="211.6" y="249.98" font-size="5.4" text-anchor="end" fill="#333">60</text>
<line x1="216.1" y1="240.01" x2="217.6" y2="240.01" stroke="#555" stroke-width="0.8"/>
<line x1="215.0" y1="232.44" x2="217.6" y2="232.44" stroke="#555" stroke-width="0.8"/>
<text x="211.6" y="234.84" font-size="5.4" text-anchor="end" fill="#333">80</text>
<line x1="216.1" y1="224.87" x2="217.6" y2="224.87" stroke="#555" stroke-width="0.8"/>
<line x1="215.0" y1="217.30" x2="217.6" y2="217.30" stroke="#555" stroke-width="0.8"/>
<text x="211.6" y="219.70" font-size="5.4" text-anchor="end" fill="#333">100</text>
<line x1="225.4" y1="293.0" x2="225.4" y2="294.6" stroke="#444" stroke-width="0.8"/>
<line x1="236.6" y1="293.0" x2="236.6" y2="294.6" stroke="#444" stroke-width="0.8"/>
<line x1="250.0" y1="293.0" x2="250.0" y2="294.6" stroke="#444" stroke-width="0.8"/>
<line x1="271.3" y1="293.0" x2="271.3" y2="294.6" stroke="#444" stroke-width="0.8"/>
<line x1="289.5" y1="293.0" x2="289.5" y2="294.6" stroke="#444" stroke-width="0.8"/>
<rect x="234.1" y="292.4" width="4.2" height="1.6" fill="#111"/>
<text x="220.2" y="302.9" font-size="5.0" fill="#444">–10</text>
<text x="228.8" y="300.3" font-size="3.0" fill="#444">3</text>
<text x="237.2" y="302.9" font-size="5.0" text-anchor="middle" fill="#444">0</text>
<text x="250.2" y="302.9" font-size="5.0" text-anchor="middle" fill="#444">10</text>
<text x="253.1" y="300.3" font-size="3.0" fill="#444">3</text>
<text x="271.9" y="302.9" font-size="5.0" text-anchor="middle" fill="#444">10</text>
<text x="274.8" y="300.3" font-size="3.0" fill="#444">4</text>
<text x="290.6" y="302.9" font-size="5.0" text-anchor="middle" fill="#444">10</text>
<text x="293.5" y="300.3" font-size="3.0" fill="#444">5</text>
<text x="198.4" y="254.3" font-size="7.9" text-anchor="middle" fill="#2a2a2a" transform="rotate(-90 198.4 254.3) translate(0 2.7)" textLength="63" lengthAdjust="spacingAndGlyphs">Normalized to mode</text>
<text x="232.3" y="223.5" font-size="9.0" textLength="63.1" lengthAdjust="spacingAndGlyphs" class="s" fill="#111">Avg MFI = 567</text>
<text x="270.0" y="236.9" font-size="8.2" textLength="25.5" lengthAdjust="spacingAndGlyphs" class="s" fill="#111">gp91 +</text>
<line x1="252.3" y1="241.2" x2="297.6" y2="241.2" stroke="#333" stroke-width="0.9"/>
<line x1="252.3" y1="239.89999999999998" x2="252.3" y2="242.5" stroke="#333" stroke-width="0.8"/>
<path d="M328.6,214.1 H408.6 V293.0" fill="none" stroke="#c9c9c9" stroke-width="1.1"/>
<g clip-path="url(#cp22)">
<polyline points="335.1,292.8 335.6,292.7 336.1,292.6 336.6,292.4 337.1,292.1 337.6,291.8 338.1,291.3 338.6,290.6 339.1,289.8 339.6,288.7 340.1,287.3 340.6,285.6 341.1,283.5 341.6,281.0 342.1,278.1 342.6,274.7 343.1,270.8 343.6,266.5 344.1,261.8 344.6,256.8 345.1,251.6 345.6,246.3 346.1,241.1 346.6,236.1 347.1,231.5 347.6,227.4 348.1,224.1 348.6,221.6 349.1,220.1 349.6,219.6 350.1,220.1 350.6,221.8 351.1,224.6 351.6,228.2 352.1,232.6 352.6,237.6 353.1,242.9 353.6,248.5 354.1,254.0 354.6,259.4 355.1,264.5 355.6,269.2 356.1,273.4 356.6,277.1 357.1,280.3 357.6,283.1 358.1,285.3 358.6,287.2 359.1,288.6 359.6,289.8 360.1,290.7 360.6,291.3 361.1,291.8 361.6,292.2 362.1,292.4 362.6,292.6 363.1,292.8" fill="none" stroke="#f2b760" stroke-width="1.0" stroke-opacity="1.0" stroke-linejoin="round"/>
<polyline points="337.6,292.8 338.1,292.7 338.6,292.5 339.1,292.3 339.6,291.9 340.1,291.5 340.6,290.8 341.1,290.0 341.6,288.9 342.1,287.5 342.6,285.8 343.1,283.6 343.6,281.0 344.1,278.0 344.6,274.4 345.1,270.3 345.6,265.7 346.1,260.8 346.6,255.5 347.1,250.0 347.6,244.5 348.1,239.2 348.6,234.2 349.1,229.7 349.6,225.9 350.1,223.0 350.6,221.1 351.1,220.4 351.6,220.7 352.1,222.0 352.6,224.3 353.1,227.4 353.6,231.3 354.1,235.7 354.6,240.6 355.1,245.8 355.6,251.0 356.1,256.2 356.6,261.2 357.1,265.9 357.6,270.2 358.1,274.2 358.6,277.6 359.1,280.6 359.6,283.2 360.1,285.3 360.6,287.1 361.1,288.5 361.6,289.6 362.1,290.5 362.6,291.2 363.1,291.7 363.6,292.1 364.1,292.4 364.6,292.6 365.1,292.7 365.6,292.8" fill="none" stroke="#23a8cc" stroke-width="1.2" stroke-opacity="1.0" stroke-linejoin="round"/>
<polyline points="336.6,292.8 337.1,292.7 337.6,292.6 338.1,292.3 338.6,292.0 339.1,291.6 339.6,291.1 340.1,290.3 340.6,289.3 341.1,288.0 341.6,286.4 342.1,284.4 342.6,281.9 343.1,279.0 343.6,275.5 344.1,271.5 344.6,267.1 345.1,262.2 345.6,256.9 346.1,251.4 346.6,245.8 347.1,240.2 347.6,234.9 348.1,230.1 348.6,226.0 349.1,222.6 349.6,220.3 350.1,219.0 350.6,218.9 351.1,219.9 351.6,222.1 352.1,225.2 352.6,229.2 353.1,233.9 353.6,239.1 354.1,244.6 354.6,250.3 355.1,255.8 355.6,261.1 356.1,266.1 356.6,270.7 357.1,274.8 357.6,278.3 358.1,281.4 358.6,283.9 359.1,286.0 359.6,287.7 360.1,289.1 360.6,290.1 361.1,290.9 361.6,291.5 362.1,292.0 362.6,292.3 363.1,292.5 363.6,292.7 364.1,292.8" fill="none" stroke="#3fae3f" stroke-width="1.5" stroke-opacity="1.0" stroke-linejoin="round"/>
</g>
<line x1="328.6" y1="213.6" x2="328.6" y2="293.0" stroke="#8a8a8a" stroke-width="0.9"/>
<line x1="328.6" y1="293.0" x2="408.6" y2="293.0" stroke="#7a7a7a" stroke-width="0.9"/>
<line x1="326.0" y1="293.00" x2="328.6" y2="293.00" stroke="#555" stroke-width="0.8"/>
<text x="322.6" y="295.40" font-size="5.4" text-anchor="end" fill="#333">0</text>
<line x1="327.1" y1="285.43" x2="328.6" y2="285.43" stroke="#555" stroke-width="0.8"/>
<line x1="326.0" y1="277.86" x2="328.6" y2="277.86" stroke="#555" stroke-width="0.8"/>
<text x="322.6" y="280.26" font-size="5.4" text-anchor="end" fill="#333">20</text>
<line x1="327.1" y1="270.29" x2="328.6" y2="270.29" stroke="#555" stroke-width="0.8"/>
<line x1="326.0" y1="262.72" x2="328.6" y2="262.72" stroke="#555" stroke-width="0.8"/>
<text x="322.6" y="265.12" font-size="5.4" text-anchor="end" fill="#333">40</text>
<line x1="327.1" y1="255.15" x2="328.6" y2="255.15" stroke="#555" stroke-width="0.8"/>
<line x1="326.0" y1="247.58" x2="328.6" y2="247.58" stroke="#555" stroke-width="0.8"/>
<text x="322.6" y="249.98" font-size="5.4" text-anchor="end" fill="#333">60</text>
<line x1="327.1" y1="240.01" x2="328.6" y2="240.01" stroke="#555" stroke-width="0.8"/>
<line x1="326.0" y1="232.44" x2="328.6" y2="232.44" stroke="#555" stroke-width="0.8"/>
<text x="322.6" y="234.84" font-size="5.4" text-anchor="end" fill="#333">80</text>
<line x1="327.1" y1="224.87" x2="328.6" y2="224.87" stroke="#555" stroke-width="0.8"/>
<line x1="326.0" y1="217.30" x2="328.6" y2="217.30" stroke="#555" stroke-width="0.8"/>
<text x="322.6" y="219.70" font-size="5.4" text-anchor="end" fill="#333">100</text>
<line x1="336.40000000000003" y1="293.0" x2="336.40000000000003" y2="294.6" stroke="#444" stroke-width="0.8"/>
<line x1="347.6" y1="293.0" x2="347.6" y2="294.6" stroke="#444" stroke-width="0.8"/>
<line x1="361.0" y1="293.0" x2="361.0" y2="294.6" stroke="#444" stroke-width="0.8"/>
<line x1="382.3" y1="293.0" x2="382.3" y2="294.6" stroke="#444" stroke-width="0.8"/>
<line x1="400.5" y1="293.0" x2="400.5" y2="294.6" stroke="#444" stroke-width="0.8"/>
<rect x="345.1" y="292.4" width="4.2" height="1.6" fill="#111"/>
<text x="331.2" y="302.9" font-size="5.0" fill="#444">–10</text>
<text x="339.8" y="300.3" font-size="3.0" fill="#444">3</text>
<text x="348.2" y="302.9" font-size="5.0" text-anchor="middle" fill="#444">0</text>
<text x="361.2" y="302.9" font-size="5.0" text-anchor="middle" fill="#444">10</text>
<text x="364.1" y="300.3" font-size="3.0" fill="#444">3</text>
<text x="382.9" y="302.9" font-size="5.0" text-anchor="middle" fill="#444">10</text>
<text x="385.8" y="300.3" font-size="3.0" fill="#444">4</text>
<text x="401.6" y="302.9" font-size="5.0" text-anchor="middle" fill="#444">10</text>
<text x="404.5" y="300.3" font-size="3.0" fill="#444">5</text>
<text x="309.40000000000003" y="254.3" font-size="7.9" text-anchor="middle" fill="#2a2a2a" transform="rotate(-90 309.40000000000003 254.3) translate(0 2.7)" textLength="63" lengthAdjust="spacingAndGlyphs">Normalized to mode</text>
<text x="340.0" y="222.2" font-size="9.0" textLength="62.3" lengthAdjust="spacingAndGlyphs" class="s" fill="#111">Avg MFI = 275</text>
<text x="379.0" y="235.0" font-size="8.2" textLength="25.2" lengthAdjust="spacingAndGlyphs" class="s" fill="#111">gp91 +</text>
<line x1="363.0" y1="240.5" x2="408.6" y2="240.5" stroke="#333" stroke-width="0.9"/>
<line x1="363.0" y1="239.2" x2="363.0" y2="241.8" stroke="#333" stroke-width="0.8"/>
<path d="M439.6,214.1 H519.6 V293.0" fill="none" stroke="#c9c9c9" stroke-width="1.1"/>
<g clip-path="url(#cp23)">
<polyline points="454.3,293.0 454.7,292.7 455.0,292.7 455.4,292.7 455.7,292.7 456.1,292.6 456.4,292.3 456.8,291.7 457.1,292.3 457.5,292.0 457.8,292.1 458.2,291.8 458.5,291.8 458.9,290.2 459.2,290.6 459.6,288.9 459.9,289.6 460.2,290.2 460.6,290.3 461.0,288.0 461.3,287.4 461.7,285.9 462.0,284.3 462.4,286.7 462.7,283.0 463.1,282.1 463.4,279.0 463.8,278.6 464.1,275.9 464.5,275.0 464.8,273.3 465.2,267.8 465.5,269.6 465.9,267.1 466.2,265.0 466.6,264.7 466.9,258.5 467.2,252.4 467.6,256.0 468.0,252.5 468.3,245.0 468.7,248.4 469.0,239.4 469.4,241.2 469.7,241.5 470.1,234.4 470.4,230.3 470.8,233.9 471.1,227.5 471.5,225.1 471.8,223.9 472.2,221.6 472.5,217.3 472.9,223.8 473.2,217.7 473.6,219.4 473.9,217.6 474.2,223.2 474.6,227.2 475.0,223.3 475.3,229.5 475.7,226.7 476.0,237.9 476.4,244.7 476.7,246.5 477.1,246.2 477.4,252.8 477.8,262.7 478.1,267.5 478.5,269.4 478.8,272.5 479.2,275.5 479.5,277.4 479.9,280.9 480.2,283.6 480.6,287.0 480.9,285.9 481.2,287.3 481.6,288.7 482.0,289.9 482.3,290.8 482.7,290.8 483.0,291.8 483.4,292.1 483.7,292.6 484.1,292.6 484.4,292.7 484.8,292.9" fill="none" stroke="#f39a2a" stroke-width="1.0" stroke-opacity="1.0" stroke-linejoin="round"/>
<polyline points="454.7,293.0 455.0,292.7 455.4,293.0 455.7,292.6 456.1,293.0 456.4,292.9 456.8,292.9 457.1,292.4 457.5,292.3 457.8,292.4 458.2,292.1 458.5,292.0 458.9,291.8 459.2,291.4 459.6,292.1 459.9,291.3 460.2,290.8 460.6,290.0 461.0,290.5 461.3,289.0 461.7,288.2 462.0,288.1 462.4,287.7 462.7,286.9 463.1,286.5 463.4,285.6 463.8,283.3 464.1,282.2 464.5,279.6 464.8,279.6 465.2,279.4 465.5,277.4 465.9,275.3 466.2,272.8 466.6,264.9 466.9,269.2 467.2,264.2 467.6,261.6 468.0,257.0 468.3,258.0 468.7,250.0 469.0,245.3 469.4,249.9 469.7,244.6 470.1,242.8 470.4,241.7 470.8,236.3 471.1,231.7 471.5,228.7 471.8,227.8 472.2,225.5 472.5,219.6 472.9,223.5 473.2,219.9 473.6,224.2 473.9,223.9 474.2,221.9 474.6,224.9 475.0,223.5 475.3,217.3 475.7,231.4 476.0,232.0 476.4,233.6 476.7,244.3 477.1,244.4 477.4,243.5 477.8,251.8 478.1,261.4 478.5,260.0 478.8,268.1 479.2,267.8 479.5,272.5 479.9,278.0 480.2,279.9 480.6,284.5 480.9,286.1 481.2,285.6 481.6,287.5 482.0,289.5 482.3,290.1 482.7,290.8 483.0,290.4 483.4,291.8 483.7,291.7 484.1,292.3 484.4,292.7 484.8,292.6 485.1,292.4 485.5,292.6 485.8,293.0" fill="none" stroke="#7cc46a" stroke-width="1.1" stroke-opacity="1.0" stroke-linejoin="round"/>
<polyline points="456.8,292.8 457.1,292.6 457.5,292.6 457.8,292.6 458.2,292.3 458.5,292.6 458.9,292.5 459.2,292.3 459.6,291.9 459.9,291.6 460.2,291.9 460.6,291.6 461.0,291.0 461.3,290.2 461.7,289.0 462.0,289.3 462.4,288.6 462.7,288.6 463.1,287.6 463.4,285.3 463.8,285.5 464.1,282.8 464.5,283.3 464.8,280.2 465.2,279.0 465.5,280.2 465.9,276.1 466.2,271.6 466.6,269.6 466.9,272.3 467.2,265.2 467.6,265.3 468.0,257.2 468.3,255.9 468.7,251.0 469.0,253.7 469.4,250.2 469.7,247.8 470.1,240.4 470.4,237.8 470.8,232.8 471.1,234.1 471.5,230.8 471.8,225.0 472.2,228.0 472.5,225.7 472.9,227.4 473.2,223.8 473.6,220.5 473.9,221.3 474.2,217.3 474.6,228.2 475.0,224.0 475.3,222.0 475.7,228.4 476.0,233.2 476.4,236.3 476.7,238.1 477.1,244.6 477.4,248.2 477.8,260.7 478.1,260.3 478.5,265.7 478.8,268.3 479.2,272.2 479.5,274.3 479.9,279.1 480.2,280.5 480.6,284.4 480.9,286.3 481.2,286.7 481.6,288.3 482.0,290.0 482.3,290.5 482.7,290.8 483.0,291.7 483.4,292.3 483.7,292.3 484.1,292.6 484.4,292.5 484.8,293.0" fill="none" stroke="#1f7a3a" stroke-width="1.1" stroke-opacity="1.0" stroke-linejoin="round"/>
<polyline points="456.1,292.9 456.4,292.6 456.8,292.7 457.1,292.5 457.5,293.0 457.8,292.5 458.2,292.4 458.5,292.5 458.9,292.2 459.2,291.9 459.6,291.2 459.9,291.5 460.2,291.4 460.6,291.0 461.0,290.3 461.3,290.2 461.7,289.8 462.0,289.2 462.4,287.6 462.7,287.7 463.1,287.1 463.4,285.3 463.8,283.0 464.1,284.9 464.5,279.5 464.8,279.6 465.2,280.0 465.5,275.2 465.9,271.1 466.2,271.2 466.6,269.7 466.9,266.3 467.2,261.6 467.6,261.5 468.0,255.8 468.3,252.5 468.7,250.7 469.0,247.8 469.4,242.5 469.7,243.5 470.1,236.5 470.4,233.0 470.8,233.5 471.1,227.7 471.5,226.0 471.8,223.1 472.2,226.0 472.5,217.4 472.9,217.4 473.2,218.6 473.6,218.4 473.9,217.9 474.2,217.8 474.6,217.3 475.0,220.1 475.3,223.2 475.7,222.6 476.0,229.2 476.4,238.2 476.7,242.4 477.1,245.5 477.4,250.5 477.8,256.7 478.1,259.2 478.5,263.0 478.8,268.8 479.2,267.9 479.5,278.3 479.9,280.2 480.2,281.1 480.6,283.0 480.9,286.3 481.2,287.3 481.6,288.8 482.0,289.3 482.3,289.6 482.7,290.7 483.0,291.2 483.4,292.4 483.7,291.9 484.1,292.1 484.4,292.4 484.8,293.0 485.1,292.9 485.5,292.6 485.8,293.0" fill="none" stroke="#3fae3f" stroke-width="1.4" stroke-opacity="1.0" stroke-linejoin="round"/>
</g>
<line x1="439.6" y1="213.6" x2="439.6" y2="293.0" stroke="#8a8a8a" stroke-width="0.9"/>
<line x1="439.6" y1="293.0" x2="519.6" y2="293.0" stroke="#7a7a7a" stroke-width="0.9"/>
<line x1="437.0" y1="293.00" x2="439.6" y2="293.00" stroke="#555" stroke-width="0.8"/>
<text x="433.6" y="295.40" font-size="5.4" text-anchor="end" fill="#333">0</text>
<line x1="438.1" y1="285.43" x2="439.6" y2="285.43" stroke="#555" stroke-width="0.8"/>
<line x1="437.0" y1="277.86" x2="439.6" y2="277.86" stroke="#555" stroke-width="0.8"/>
<text x="433.6" y="280.26" font-size="5.4" text-anchor="end" fill="#333">20</text>
<line x1="438.1" y1="270.29" x2="439.6" y2="270.29" stroke="#555" stroke-width="0.8"/>
<line x1="437.0" y1="262.72" x2="439.6" y2="262.72" stroke="#555" stroke-width="0.8"/>
<text x="433.6" y="265.12" font-size="5.4" text-anchor="end" fill="#333">40</text>
<line x1="438.1" y1="255.15" x2="439.6" y2="255.15" stroke="#555" stroke-width="0.8"/>
<line x1="437.0" y1="247.58" x2="439.6" y2="247.58" stroke="#555" stroke-width="0.8"/>
<text x="433.6" y="249.98" font-size="5.4" text-anchor="end" fill="#333">60</text>
<line x1="438.1" y1="240.01" x2="439.6" y2="240.01" stroke="#555" stroke-width="0.8"/>
<line x1="437.0" y1="232.44" x2="439.6" y2="232.44" stroke="#555" stroke-width="0.8"/>
<text x="433.6" y="234.84" font-size="5.4" text-anchor="end" fill="#333">80</text>
<line x1="438.1" y1="224.87" x2="439.6" y2="224.87" stroke="#555" stroke-width="0.8"/>
<line x1="437.0" y1="217.30" x2="439.6" y2="217.30" stroke="#555" stroke-width="0.8"/>
<text x="433.6" y="219.70" font-size="5.4" text-anchor="end" fill="#333">100</text>
<line x1="447.40000000000003" y1="293.0" x2="447.40000000000003" y2="294.6" stroke="#444" stroke-width="0.8"/>
<line x1="458.6" y1="293.0" x2="458.6" y2="294.6" stroke="#444" stroke-width="0.8"/>
<line x1="472.0" y1="293.0" x2="472.0" y2="294.6" stroke="#444" stroke-width="0.8"/>
<line x1="493.3" y1="293.0" x2="493.3" y2="294.6" stroke="#444" stroke-width="0.8"/>
<line x1="511.5" y1="293.0" x2="511.5" y2="294.6" stroke="#444" stroke-width="0.8"/>
<rect x="456.1" y="292.4" width="4.2" height="1.6" fill="#111"/>
<text x="442.2" y="302.9" font-size="5.0" fill="#444">–10</text>
<text x="450.8" y="300.3" font-size="3.0" fill="#444">3</text>
<text x="459.2" y="302.9" font-size="5.0" text-anchor="middle" fill="#444">0</text>
<text x="472.2" y="302.9" font-size="5.0" text-anchor="middle" fill="#444">10</text>
<text x="475.1" y="300.3" font-size="3.0" fill="#444">3</text>
<text x="493.9" y="302.9" font-size="5.0" text-anchor="middle" fill="#444">10</text>
<text x="496.8" y="300.3" font-size="3.0" fill="#444">4</text>
<text x="512.6" y="302.9" font-size="5.0" text-anchor="middle" fill="#444">10</text>
<text x="515.5" y="300.3" font-size="3.0" fill="#444">5</text>
<text x="420.40000000000003" y="254.3" font-size="7.9" text-anchor="middle" fill="#2a2a2a" transform="rotate(-90 420.40000000000003 254.3) translate(0 2.7)" textLength="63" lengthAdjust="spacingAndGlyphs">Normalized to mode</text>
<text x="444.9" y="222.2" font-size="9.0" textLength="68.1" lengthAdjust="spacingAndGlyphs" class="s" fill="#111">Avg MFI = 1259</text>
<text x="491.5" y="235.0" font-size="8.2" textLength="24.7" lengthAdjust="spacingAndGlyphs" class="s" fill="#111">gp91 +</text>
<line x1="483.8" y1="240.0" x2="519.6" y2="240.0" stroke="#333" stroke-width="0.9"/>
<line x1="483.8" y1="238.7" x2="483.8" y2="241.3" stroke="#333" stroke-width="0.8"/>
<text x="109.8" y="313.0" font-size="7.3" textLength="72.0" lengthAdjust="spacingAndGlyphs" fill="#333">Comp-FITC-A :: Gp91</text>
<text x="222.1" y="313.0" font-size="7.3" textLength="73.4" lengthAdjust="spacingAndGlyphs" fill="#333">Comp-FITC-A :: Gp91</text>
<text x="333.2" y="313.0" font-size="7.3" textLength="72.7" lengthAdjust="spacingAndGlyphs" fill="#333">Comp-FITC-A :: Gp91</text>
<text x="445.7" y="313.0" font-size="7.3" textLength="70.6" lengthAdjust="spacingAndGlyphs" fill="#333">Comp-FITC-A :: Gp91</text>
<line x1="112.5" y1="321.6" x2="510" y2="321.6" stroke="#111" stroke-width="1.9"/>
<path d="M517.4,321.6 L506.8,317.2 L509.6,321.6 L506.8,326.0 Z" fill="#111"/>
<text x="296.5" y="336.5" font-size="10.8" fill="#333" textLength="21.2" lengthAdjust="spacingAndGlyphs">gp91</text>
<text x="318.6" y="333.2" font-size="7.4" fill="#333" textLength="15.4" lengthAdjust="spacingAndGlyphs">phox</text>
<text x="112.3" y="372.8" font-size="15.6" textLength="9.2" lengthAdjust="spacingAndGlyphs" font-weight="bold" fill="#222">F</text>
<text x="231.7" y="389.0" font-size="10.0" textLength="124.6" lengthAdjust="spacingAndGlyphs" class="s" fill="#222">Peripheral Blood 16 Weeks</text>
<text x="258.2" y="399.8" font-size="10.0" textLength="70.6" lengthAdjust="spacingAndGlyphs" class="s" fill="#222">Post-Transplant</text>
<line x1="179.2" y1="411.8" x2="179.2" y2="576.4000000000001" stroke="#111" stroke-width="1.5"/>
<line x1="178.5" y1="575.7" x2="407.7" y2="575.7" stroke="#111" stroke-width="1.5"/>
<line x1="174.3" y1="575.70" x2="179.2" y2="575.70" stroke="#111" stroke-width="1.2"/>
<text x="171.0" y="578.30" font-size="7.4" text-anchor="end" fill="#333">0</text>
<line x1="174.3" y1="559.68" x2="179.2" y2="559.68" stroke="#111" stroke-width="1.2"/>
<text x="171.0" y="562.28" font-size="7.4" text-anchor="end" fill="#333">10</text>
<line x1="174.3" y1="543.66" x2="179.2" y2="543.66" stroke="#111" stroke-width="1.2"/>
<text x="171.0" y="546.26" font-size="7.4" text-anchor="end" fill="#333">20</text>
<line x1="174.3" y1="527.64" x2="179.2" y2="527.64" stroke="#111" stroke-width="1.2"/>
<text x="171.0" y="530.24" font-size="7.4" text-anchor="end" fill="#333">30</text>
<line x1="174.3" y1="511.62" x2="179.2" y2="511.62" stroke="#111" stroke-width="1.2"/>
<text x="171.0" y="514.22" font-size="7.4" text-anchor="end" fill="#333">40</text>
<line x1="174.3" y1="495.60" x2="179.2" y2="495.60" stroke="#111" stroke-width="1.2"/>
<text x="171.0" y="498.20" font-size="7.4" text-anchor="end" fill="#333">50</text>
<line x1="174.3" y1="479.58" x2="179.2" y2="479.58" stroke="#111" stroke-width="1.2"/>
<text x="171.0" y="482.18" font-size="7.4" text-anchor="end" fill="#333">60</text>
<line x1="174.3" y1="463.56" x2="179.2" y2="463.56" stroke="#111" stroke-width="1.2"/>
<text x="171.0" y="466.16" font-size="7.4" text-anchor="end" fill="#333">70</text>
<line x1="174.3" y1="447.54" x2="179.2" y2="447.54" stroke="#111" stroke-width="1.2"/>
<text x="171.0" y="450.14" font-size="7.4" text-anchor="end" fill="#333">80</text>
<line x1="174.3" y1="431.52" x2="179.2" y2="431.52" stroke="#111" stroke-width="1.2"/>
<text x="171.0" y="434.12" font-size="7.4" text-anchor="end" fill="#333">90</text>
<line x1="174.3" y1="415.50" x2="179.2" y2="415.50" stroke="#111" stroke-width="1.2"/>
<text x="171.0" y="418.10" font-size="7.4" text-anchor="end" fill="#333">100</text>
<line x1="205.8" y1="575.7" x2="205.8" y2="580.8" stroke="#111" stroke-width="1.1"/>
<line x1="264.2" y1="575.7" x2="264.2" y2="580.8" stroke="#111" stroke-width="1.1"/>
<line x1="322.2" y1="575.7" x2="322.2" y2="580.8" stroke="#111" stroke-width="1.1"/>
<line x1="380.8" y1="575.7" x2="380.8" y2="580.8" stroke="#111" stroke-width="1.1"/>
<g transform="translate(150.5 531.6) rotate(-90)" fill="#333"><text x="0" y="0" font-size="8.6" textLength="51.2" lengthAdjust="spacingAndGlyphs">% Human gp91</text><text x="51.6" y="-3.4" font-size="6.6" textLength="16.4" lengthAdjust="spacingAndGlyphs">phox</text><text x="70.0" y="-0.8" font-size="6.5">+</text></g>
<path d="M184.2,445.8 V443.6 H197.3 V509.4" fill="none" stroke="#111" stroke-width="1.1"/>
<text x="183.8" y="443.8" font-size="9.0" textLength="14.3" lengthAdjust="spacingAndGlyphs" class="s" fill="#222">****</text>
<path d="M241.3,458.1 V455.6 H255.5 V518.6" fill="none" stroke="#111" stroke-width="1.1"/>
<text x="240.9" y="456.2" font-size="9.0" textLength="15.4" lengthAdjust="spacingAndGlyphs" class="s" fill="#222">****</text>
<path d="M300.3,491.3 V489.1 H313.8 V553.0" fill="none" stroke="#111" stroke-width="1.1"/>
<text x="299.9" y="489.0" font-size="9.0" textLength="14.7" lengthAdjust="spacingAndGlyphs" class="s" fill="#222">****</text>
<path d="M358.2,563.2 V560.8 H372.8 V563.2" fill="none" stroke="#111" stroke-width="1.1"/>
<text x="365.5" y="557.8" font-size="8.0" text-anchor="middle" class="s" fill="#111">ns</text>
<line x1="187.3" y1="458.3" x2="187.3" y2="477.2" stroke="#111" stroke-width="0.9"/>
<line x1="185.8" y1="458.3" x2="188.8" y2="458.3" stroke="#111" stroke-width="0.9"/>
<line x1="185.8" y1="477.2" x2="188.8" y2="477.2" stroke="#111" stroke-width="0.9"/>
<line x1="184.10000000000002" y1="468.0" x2="190.5" y2="468.0" stroke="#111" stroke-width="1.0"/>
<circle cx="187.1" cy="452.5" r="1.8" fill="#1e3f6e"/>
<circle cx="184.8" cy="468.6" r="1.8" fill="#1e3f6e"/>
<circle cx="189.4" cy="468.0" r="1.8" fill="#1e3f6e"/>
<circle cx="190.0" cy="473.6" r="1.8" fill="#1e3f6e"/>
<circle cx="184.8" cy="476.7" r="1.8" fill="#1e3f6e"/>
<rect x="197.9" y="516.0" width="3.4" height="3.4" fill="#f39a1e"/>
<rect x="195.4" y="524.1" width="3.4" height="3.4" fill="#f39a1e"/>
<rect x="200.2" y="525.2" width="3.4" height="3.4" fill="#f39a1e"/>
<rect x="197.9" y="533.3" width="3.4" height="3.4" fill="#f39a1e"/>
<line x1="199.8" y1="518.8" x2="199.8" y2="534.4" stroke="#111" stroke-width="0.9"/>
<line x1="198.55" y1="518.8" x2="201.05" y2="518.8" stroke="#111" stroke-width="0.9"/>
<line x1="198.55" y1="534.4" x2="201.05" y2="534.4" stroke="#111" stroke-width="0.9"/>
<line x1="197.3" y1="527.0" x2="202.3" y2="527.0" stroke="#111" stroke-width="1.0"/>
<circle cx="243.4" cy="465.3" r="1.8" fill="#1e3f6e"/>
<circle cx="246.2" cy="464.3" r="1.8" fill="#1e3f6e"/>
<circle cx="248.1" cy="467.7" r="1.8" fill="#1e3f6e"/>
<circle cx="242.4" cy="468.6" r="1.8" fill="#1e3f6e"/>
<circle cx="244.8" cy="470.5" r="1.8" fill="#1e3f6e"/>
<circle cx="245.3" cy="479.6" r="1.8" fill="#1e3f6e"/>
<circle cx="245.8" cy="492.5" r="1.8" fill="#1e3f6e"/>
<line x1="245.4" y1="464.0" x2="245.4" y2="486.4" stroke="#111" stroke-width="0.9"/>
<line x1="243.3" y1="464.0" x2="247.5" y2="464.0" stroke="#111" stroke-width="0.9"/>
<line x1="243.3" y1="486.4" x2="247.5" y2="486.4" stroke="#111" stroke-width="0.9"/>
<line x1="241.20000000000002" y1="475.3" x2="249.6" y2="475.3" stroke="#111" stroke-width="1.0"/>
<rect x="254.0" y="526.5" width="3.4" height="3.4" fill="#f39a1e"/>
<rect x="258.7" y="527.3" width="3.4" height="3.4" fill="#f39a1e"/>
<rect x="256.3" y="536.0" width="3.4" height="3.4" fill="#f39a1e"/>
<rect x="255.3" y="524.9" width="3.4" height="3.4" fill="#f39a1e"/>
<line x1="258.6" y1="525.8" x2="258.6" y2="535.0" stroke="#111" stroke-width="0.9"/>
<line x1="257.35" y1="525.8" x2="259.85" y2="525.8" stroke="#111" stroke-width="0.9"/>
<line x1="257.35" y1="535.0" x2="259.85" y2="535.0" stroke="#111" stroke-width="0.9"/>
<line x1="256.1" y1="530.5" x2="261.1" y2="530.5" stroke="#111" stroke-width="1.0"/>
<circle cx="303.5" cy="498.6" r="1.8" fill="#1e3f6e"/>
<circle cx="303.5" cy="519.2" r="1.8" fill="#1e3f6e"/>
<circle cx="303.5" cy="524.4" r="1.8" fill="#1e3f6e"/>
<circle cx="303.5" cy="532.0" r="1.8" fill="#1e3f6e"/>
<circle cx="303.5" cy="537.7" r="1.8" fill="#1e3f6e"/>
<line x1="303.5" y1="507.2" x2="303.5" y2="537.0" stroke="#111" stroke-width="0.9"/>
<line x1="301.75" y1="507.2" x2="305.25" y2="507.2" stroke="#111" stroke-width="0.9"/>
<line x1="301.75" y1="537.0" x2="305.25" y2="537.0" stroke="#111" stroke-width="0.9"/>
<line x1="299.7" y1="522.1" x2="307.3" y2="522.1" stroke="#111" stroke-width="1.0"/>
<rect x="313.7" y="563.1" width="3.4" height="3.4" fill="#f39a1e"/>
<rect x="316.5" y="561.1" width="3.4" height="3.4" fill="#f39a1e"/>
<rect x="315.9" y="563.5" width="3.4" height="3.4" fill="#f39a1e"/>
<rect x="317.3" y="562.7" width="3.4" height="3.4" fill="#f39a1e"/>
<rect x="314.9" y="561.9" width="3.4" height="3.4" fill="#f39a1e"/>
<circle cx="359.5" cy="574.4" r="1.8" fill="#1e3f6e"/>
<circle cx="362.0" cy="573.6" r="1.8" fill="#1e3f6e"/>
<circle cx="364.5" cy="574.4" r="1.8" fill="#1e3f6e"/>
<rect x="369.9" y="572.6" width="3.4" height="3.4" fill="#f39a1e"/>
<rect x="372.5" y="572.1" width="3.4" height="3.4" fill="#f39a1e"/>
<rect x="375.1" y="572.6" width="3.4" height="3.4" fill="#f39a1e"/>
<rect x="372.5" y="566.8" width="3.4" height="3.4" fill="#f39a1e"/>
<line x1="374.2" y1="570.5" x2="374.2" y2="575.0" stroke="#111" stroke-width="0.9"/>
<line x1="372.95" y1="570.5" x2="375.45" y2="570.5" stroke="#111" stroke-width="0.9"/>
<line x1="372.95" y1="575.0" x2="375.45" y2="575.0" stroke="#111" stroke-width="0.9"/>
<line x1="371.2" y1="573.5" x2="377.2" y2="573.5" stroke="#111" stroke-width="1.0"/>
<path d="M209.9,572.5 L211.8,576.3 L208.0,576.3 Z" fill="#c8173c"/>
<path d="M211.4,571.8 L213.3,575.6 L209.5,575.6 Z" fill="#c8173c"/>
<path d="M213.0,572.3 L214.9,576.1 L211.1,576.1 Z" fill="#c8173c"/>
<path d="M214.5,572.6 L216.4,576.4 L212.6,576.4 Z" fill="#c8173c"/>
<path d="M222.2,576.1 L224.1,572.3 L220.3,572.3 Z" fill="#3daa48"/>
<path d="M223.7,575.5 L225.6,571.7 L221.8,571.7 Z" fill="#3daa48"/>
<path d="M225.2,575.7 L227.1,571.9 L223.3,571.9 Z" fill="#3daa48"/>
<path d="M226.6,576.2 L228.5,572.4 L224.7,572.4 Z" fill="#3daa48"/>
<path d="M268.6,572.7 L270.5,576.5 L266.7,576.5 Z" fill="#c8173c"/>
<path d="M270.0,570.7 L271.9,574.5 L268.1,574.5 Z" fill="#c8173c"/>
<path d="M271.5,571.7 L273.4,575.5 L269.6,575.5 Z" fill="#c8173c"/>
<path d="M272.8,572.7 L274.7,576.5 L270.9,576.5 Z" fill="#c8173c"/>
<path d="M281.0,574.5 L282.9,570.7 L279.1,570.7 Z" fill="#3daa48"/>
<path d="M282.4,573.3 L284.3,569.5 L280.5,569.5 Z" fill="#3daa48"/>
<path d="M283.8,574.1 L285.7,570.3 L281.9,570.3 Z" fill="#3daa48"/>
<path d="M285.0,575.1 L286.9,571.3 L283.1,571.3 Z" fill="#3daa48"/>
<path d="M326.3,572.6 L328.2,576.4 L324.4,576.4 Z" fill="#c8173c"/>
<path d="M327.8,571.9 L329.7,575.7 L325.9,575.7 Z" fill="#c8173c"/>
<path d="M329.4,572.2 L331.3,576.0 L327.5,576.0 Z" fill="#c8173c"/>
<path d="M330.9,572.6 L332.8,576.4 L329.0,576.4 Z" fill="#c8173c"/>
<path d="M338.6,576.1 L340.5,572.3 L336.7,572.3 Z" fill="#3daa48"/>
<path d="M340.1,575.6 L342.0,571.8 L338.2,571.8 Z" fill="#3daa48"/>
<path d="M341.6,575.7 L343.5,571.9 L339.7,571.9 Z" fill="#3daa48"/>
<path d="M343.0,576.2 L344.9,572.4 L341.1,572.4 Z" fill="#3daa48"/>
<path d="M384.9,572.6 L386.8,576.4 L383.0,576.4 Z" fill="#c8173c"/>
<path d="M386.4,571.9 L388.3,575.7 L384.5,575.7 Z" fill="#c8173c"/>
<path d="M388.0,572.2 L389.9,576.0 L386.1,576.0 Z" fill="#c8173c"/>
<path d="M389.5,572.6 L391.4,576.4 L387.6,576.4 Z" fill="#c8173c"/>
<path d="M397.2,576.1 L399.1,572.3 L395.3,572.3 Z" fill="#3daa48"/>
<path d="M398.7,575.6 L400.6,571.8 L396.8,571.8 Z" fill="#3daa48"/>
<path d="M400.2,575.7 L402.1,571.9 L398.3,571.9 Z" fill="#3daa48"/>
<path d="M401.6,576.2 L403.5,572.4 L399.7,572.4 Z" fill="#3daa48"/>
<text x="208.6" y="593.0" font-size="8.2" text-anchor="end" fill="#333" transform="rotate(-23.6 208.6 593.0)">Neutrophils (Gr1+</text>
<text x="214.3" y="601.0" font-size="8.2" text-anchor="end" fill="#333" transform="rotate(-23.6 214.3 601.0)">high, CD11b+)</text>
<text x="271.5" y="591.2" font-size="8.2" text-anchor="end" fill="#333" transform="rotate(-23.6 271.5 591.2)">Monocytes (Gr1+</text>
<text x="276.3" y="599.2" font-size="8.2" text-anchor="end" fill="#333" transform="rotate(-23.6 276.3 599.2)">low, CD11b+)</text>
<text x="328.0" y="589.8" font-size="8.2" text-anchor="end" fill="#333" transform="rotate(-23.6 328.0 589.8)">B cells</text>
<text x="331.6" y="599.3" font-size="8.2" text-anchor="end" fill="#333" transform="rotate(-23.6 331.6 599.3)">(B220+)</text>
<text x="386.6" y="589.5" font-size="8.2" text-anchor="end" fill="#333" transform="rotate(-23.6 386.6 589.5)">T cells</text>
<text x="390.3" y="599.0" font-size="8.2" text-anchor="end" fill="#333" transform="rotate(-23.6 390.3 599.0)">(CD3+)</text>
<circle cx="294.8" cy="422.8" r="1.6" fill="#1e3f6e"/>
<rect x="293.1" y="433.1" width="3.0" height="3.0" fill="#f39a1e"/>
<path d="M294.8,444.5 L296.4,447.7 L293.2,447.7 Z" fill="#c8173c"/>
<path d="M294.8,459.3 L296.4,456.1 L293.2,456.1 Z" fill="#3daa48"/>
<text x="301.5" y="425.4" font-size="8.4" textLength="38.0" lengthAdjust="spacingAndGlyphs" class="s" fill="#222">MyeloVec</text>
<text x="301.5" y="437.4" font-size="8.4" class="s" fill="#222" textLength="98" lengthAdjust="spacingAndGlyphs">CCLchim-gp91<tspan font-size="5.4" dy="-4.8">phox</tspan><tspan dy="4.8">-WPRE</tspan></text>
<text x="301.5" y="448.6" font-size="8.4" textLength="45.0" lengthAdjust="spacingAndGlyphs" class="s" fill="#222">NT CYBB-/-</text>
<text x="301.5" y="460.2" font-size="8.4" textLength="50.4" lengthAdjust="spacingAndGlyphs" class="s" fill="#222">WT C57BL/6</text>
</svg></body></html>
